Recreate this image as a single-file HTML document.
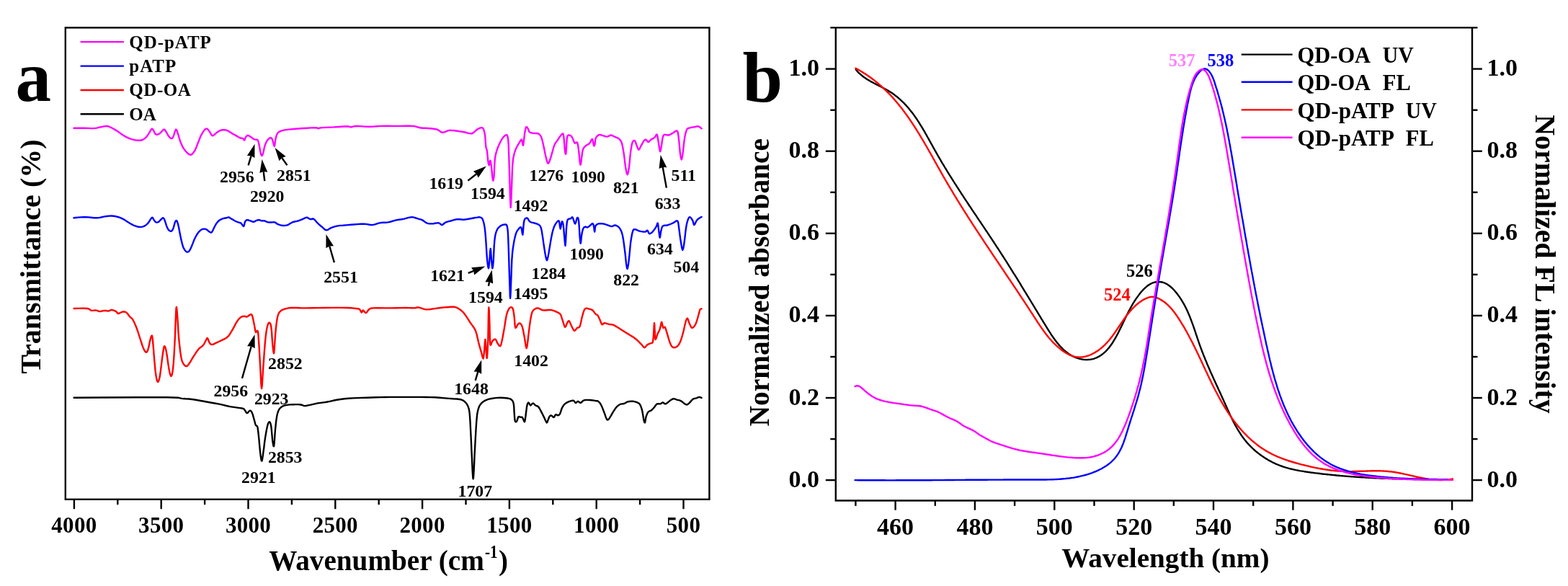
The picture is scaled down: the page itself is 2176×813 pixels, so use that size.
<!DOCTYPE html>
<html><head><meta charset="utf-8"><title>figure</title>
<style>html,body{margin:0;padding:0;background:#fff}svg{display:block}</style></head>
<body>
<svg width="2176" height="813" viewBox="0 0 2176 813" font-family="'Liberation Serif','Times New Roman',Times,serif" font-weight="bold">
<rect width="2176" height="813" fill="#fff"/>
<rect x="90.8" y="38.4" width="893.6" height="654.4" fill="none" stroke="#000" stroke-width="2.4"/>
<line x1="102.9" y1="692.8" x2="102.9" y2="706.2" stroke="#000" stroke-width="2.4"/>
<text x="102.9" y="739.0" font-size="31" text-anchor="middle" fill="#000" letter-spacing="0.3">4000</text>
<line x1="163.3" y1="692.8" x2="163.3" y2="700.2" stroke="#000" stroke-width="2.4"/>
<line x1="223.7" y1="692.8" x2="223.7" y2="706.2" stroke="#000" stroke-width="2.4"/>
<text x="223.7" y="739.0" font-size="31" text-anchor="middle" fill="#000" letter-spacing="0.3">3500</text>
<line x1="284.1" y1="692.8" x2="284.1" y2="700.2" stroke="#000" stroke-width="2.4"/>
<line x1="344.5" y1="692.8" x2="344.5" y2="706.2" stroke="#000" stroke-width="2.4"/>
<text x="344.5" y="739.0" font-size="31" text-anchor="middle" fill="#000" letter-spacing="0.3">3000</text>
<line x1="404.9" y1="692.8" x2="404.9" y2="700.2" stroke="#000" stroke-width="2.4"/>
<line x1="465.3" y1="692.8" x2="465.3" y2="706.2" stroke="#000" stroke-width="2.4"/>
<text x="465.3" y="739.0" font-size="31" text-anchor="middle" fill="#000" letter-spacing="0.3">2500</text>
<line x1="525.7" y1="692.8" x2="525.7" y2="700.2" stroke="#000" stroke-width="2.4"/>
<line x1="586.1" y1="692.8" x2="586.1" y2="706.2" stroke="#000" stroke-width="2.4"/>
<text x="586.1" y="739.0" font-size="31" text-anchor="middle" fill="#000" letter-spacing="0.3">2000</text>
<line x1="646.5" y1="692.8" x2="646.5" y2="700.2" stroke="#000" stroke-width="2.4"/>
<line x1="706.9" y1="692.8" x2="706.9" y2="706.2" stroke="#000" stroke-width="2.4"/>
<text x="706.9" y="739.0" font-size="31" text-anchor="middle" fill="#000" letter-spacing="0.3">1500</text>
<line x1="767.3" y1="692.8" x2="767.3" y2="700.2" stroke="#000" stroke-width="2.4"/>
<line x1="827.7" y1="692.8" x2="827.7" y2="706.2" stroke="#000" stroke-width="2.4"/>
<text x="827.7" y="739.0" font-size="31" text-anchor="middle" fill="#000" letter-spacing="0.3">1000</text>
<line x1="888.1" y1="692.8" x2="888.1" y2="700.2" stroke="#000" stroke-width="2.4"/>
<line x1="948.5" y1="692.8" x2="948.5" y2="706.2" stroke="#000" stroke-width="2.4"/>
<text x="948.5" y="739.0" font-size="31" text-anchor="middle" fill="#000" letter-spacing="0.3">500</text>
<text x="373.2" y="791.3" font-size="39" text-anchor="start" fill="#000" textLength="298.6" lengthAdjust="spacingAndGlyphs" >Wavenumber (cm</text>
<text x="673.0" y="773.6" font-size="25.5" text-anchor="start" fill="#000" textLength="17.6" lengthAdjust="spacingAndGlyphs" >-1</text>
<text x="692.0" y="791.3" font-size="39" text-anchor="start" fill="#000" >)</text>
<text transform="translate(56.2,518.8) rotate(-90)" font-size="39.5" textLength="325.5" lengthAdjust="spacingAndGlyphs">Transmittance (%)</text>
<text x="21.5" y="140.0" font-size="99" text-anchor="start" fill="#000" >a</text>
<line x1="111.6" y1="58.1" x2="171.9" y2="58.1" stroke="#ff00ff" stroke-width="2.4"/>
<text x="179.3" y="66.5" font-size="25" textLength="113.5" lengthAdjust="spacing">QD-pATP</text>
<line x1="111.6" y1="91.6" x2="171.9" y2="91.6" stroke="#0000ff" stroke-width="2.4"/>
<text x="179.3" y="100.0" font-size="25" textLength="65" lengthAdjust="spacing">pATP</text>
<line x1="111.6" y1="125.0" x2="171.9" y2="125.0" stroke="#ff0000" stroke-width="2.4"/>
<text x="179.3" y="133.4" font-size="25" textLength="85.5" lengthAdjust="spacing">QD-OA</text>
<line x1="111.6" y1="158.2" x2="171.9" y2="158.2" stroke="#000000" stroke-width="2.4"/>
<text x="179.3" y="166.6" font-size="25" textLength="37.5" lengthAdjust="spacing">OA</text>
<polyline points="102.6,551.7 140.2,551.5 192.2,551.3 232.1,551.3 247.2,551.7 250.1,552.4 252.4,552.9 257.5,553.3 261.9,553.5 266.6,554.0 271.7,554.7 277.0,555.7 282.8,556.8 289.4,558.0 296.5,559.2 303.1,560.4 308.9,561.7 314.3,563.0 319.4,564.1 324.6,564.9 329.6,565.6 333.6,566.1 336.0,566.5 337.4,566.8 338.6,567.6 340.1,569.5 341.4,571.9 342.7,573.2 344.1,572.5 345.5,570.6 346.8,569.6 347.9,569.8 348.8,570.8 349.8,572.6 350.9,575.6 351.9,579.4 352.9,582.8 353.6,585.5 354.2,587.9 354.9,589.9 355.7,590.6 356.7,590.9 357.5,592.9 358.2,597.8 358.9,604.4 359.6,611.2 360.2,618.3 360.9,625.5 361.6,631.5 362.2,635.8 362.8,638.9 363.4,639.6 364.0,637.4 364.7,632.8 365.4,627.4 366.3,621.1 367.1,613.9 368.1,607.1 369.1,601.0 370.1,595.4 371.1,590.9 372.0,587.8 372.9,585.9 373.8,585.2 374.6,585.7 375.4,587.5 376.2,590.9 376.9,597.0 377.6,604.8 378.2,611.2 378.9,615.8 379.5,619.0 380.1,619.3 380.6,615.3 381.1,608.3 381.6,601.0 382.2,594.1 382.9,586.9 383.7,580.7 384.5,576.1 385.4,572.5 386.5,569.6 387.8,567.2 389.4,565.5 391.2,564.1 393.2,563.1 395.4,562.4 398.3,561.9 402.1,561.4 406.6,561.2 410.4,561.1 413.3,561.1 415.5,561.2 417.6,561.5 419.4,562.0 420.9,562.7 422.6,563.1 424.4,563.0 426.2,562.6 428.7,562.1 432.3,561.3 436.6,560.3 440.9,559.4 444.9,558.9 448.9,558.4 453.1,557.8 457.6,556.9 462.3,555.8 467.3,554.8 472.5,554.0 477.9,553.3 483.5,552.7 489.4,552.4 495.5,552.1 501.8,551.9 508.4,551.7 515.2,551.5 522.1,551.3 528.1,551.1 534.1,551.0 542.4,550.9 555.2,550.9 570.2,550.9 583.0,550.9 591.2,551.0 597.3,551.1 603.3,551.3 610.3,551.8 617.3,552.4 623.6,552.9 629.1,553.3 633.9,553.5 637.8,554.0 640.4,554.5 642.2,555.3 643.9,556.4 645.7,558.0 647.5,560.0 648.9,562.5 650.0,565.1 650.9,568.2 651.6,572.6 652.1,578.9 652.6,586.5 653.0,595.0 653.5,604.7 654.0,615.3 654.4,625.4 654.9,635.0 655.3,644.2 655.6,651.8 656.0,657.9 656.3,662.6 656.7,664.4 657.0,662.7 657.3,658.2 657.7,651.8 658.1,643.3 658.5,632.8 659.1,621.3 659.8,608.2 660.6,594.2 661.4,582.8 662.1,575.5 662.9,570.8 663.9,567.0 665.0,563.8 666.4,561.5 668.1,559.4 670.3,557.5 672.9,555.8 676.2,554.4 680.6,553.2 685.6,552.4 690.4,551.9 694.8,551.8 699.0,552.0 702.6,552.3 705.5,552.7 707.8,553.3 709.7,554.4 711.1,555.8 712.1,557.7 712.8,560.4 713.3,564.7 713.5,569.9 713.8,574.6 714.1,578.6 714.4,582.0 714.8,584.4 715.5,585.3 716.4,585.2 717.2,584.4 717.9,582.6 718.6,580.1 719.3,578.3 720.1,578.0 721.0,578.3 721.9,578.7 722.9,578.7 724.0,578.7 724.9,579.1 725.7,580.5 726.4,582.4 727.0,583.8 727.5,584.7 727.9,585.3 728.4,584.4 728.9,581.3 729.5,576.9 730.0,572.6 730.5,568.9 730.9,565.3 731.4,562.5 732.0,560.4 732.7,558.9 733.5,558.4 734.3,559.4 735.1,561.3 736.1,562.5 737.2,561.8 738.4,560.3 739.6,559.4 740.7,560.0 742.0,561.3 743.2,562.5 744.5,563.0 745.9,563.5 747.3,564.5 748.6,566.5 750.0,569.0 751.3,571.6 752.7,574.3 754.1,577.1 755.4,579.7 756.6,582.5 757.8,585.1 758.8,586.4 759.6,585.7 760.2,583.7 760.9,581.8 761.6,580.0 762.3,578.3 763.1,577.1 763.9,576.5 764.7,576.4 765.5,576.7 766.5,577.5 767.6,578.7 768.6,579.1 769.5,578.0 770.3,576.3 771.2,575.1 772.3,575.2 773.5,576.0 774.7,576.3 775.6,575.8 776.5,575.0 777.3,573.6 778.1,571.5 778.9,568.9 779.7,566.5 780.7,564.6 781.7,562.9 782.8,561.5 784.0,560.3 785.4,559.3 786.8,558.4 788.5,557.6 790.3,556.9 791.9,556.4 793.4,555.9 794.7,555.6 796.0,555.8 797.1,556.8 798.0,558.2 799.0,559.0 800.0,558.5 801.0,557.4 802.1,556.8 803.2,557.4 804.4,558.5 805.7,559.0 807.0,558.1 808.4,556.6 810.2,555.4 812.6,554.9 815.5,554.9 818.3,555.0 821.2,555.2 824.0,555.6 826.4,556.0 828.1,556.2 829.3,556.3 830.5,557.0 831.8,558.3 833.2,560.1 834.5,562.5 835.9,565.6 837.3,569.2 838.6,572.6 839.7,575.7 840.7,578.6 841.6,580.7 842.4,582.0 843.0,582.5 843.7,582.4 844.6,581.7 845.6,580.4 846.7,578.7 848.0,576.6 849.3,574.1 850.8,571.6 852.4,569.1 854.1,566.6 855.8,564.5 857.5,562.9 859.2,561.7 860.9,560.8 862.6,560.4 864.3,560.3 866.0,560.0 867.6,559.2 869.2,558.2 871.1,557.4 873.3,557.0 875.8,556.8 878.2,556.8 880.4,557.1 882.4,557.7 884.3,558.4 885.8,559.1 887.1,559.9 888.3,561.5 889.4,563.9 890.5,567.1 891.4,570.6 892.1,574.7 892.8,579.2 893.4,582.8 894.0,585.0 894.5,586.4 895.0,586.4 895.4,584.7 895.9,581.7 896.4,578.7 897.3,576.1 898.3,573.6 899.5,571.6 900.8,570.6 902.2,570.2 903.5,569.6 904.9,568.4 906.2,567.0 907.6,565.5 908.9,563.7 910.3,561.8 911.7,560.4 913.1,560.1 914.7,560.4 916.1,560.4 917.4,559.8 918.6,558.9 919.8,558.4 921.0,559.0 922.2,560.0 923.4,560.4 924.8,559.8 926.3,558.7 927.9,557.4 929.8,555.9 931.9,554.3 934.0,553.3 936.1,553.4 938.1,554.1 940.1,554.8 941.9,555.2 943.6,555.7 945.1,556.4 946.6,557.3 947.9,558.4 949.2,559.4 950.6,560.4 951.9,561.2 953.3,561.5 954.6,560.9 956.0,559.7 957.3,558.4 958.6,556.9 960.0,555.3 961.4,553.9 963.0,553.2 964.8,552.7 966.5,552.3 967.9,551.7 969.3,551.2 970.5,550.9 971.7,551.1 972.8,551.6 973.6,551.9" fill="none" stroke="#000000" stroke-width="2.4" stroke-linejoin="round" stroke-linecap="round" />
<polyline points="102.6,428.0 108.0,427.9 115.5,427.8 121.5,428.0 124.1,428.9 125.3,430.0 126.5,430.9 128.5,430.9 130.6,430.6 132.6,430.4 134.7,430.9 136.7,431.7 138.7,432.1 140.7,431.8 142.8,431.2 144.8,430.9 146.9,431.0 149.0,431.4 150.9,431.5 152.3,430.9 153.5,430.2 155.0,429.8 156.9,430.3 159.2,431.1 161.0,432.1 162.2,433.2 163.0,434.5 164.1,435.1 165.9,434.5 168.1,433.3 170.2,432.5 171.9,432.4 173.6,432.6 175.3,433.5 177.0,435.2 178.7,437.5 180.3,439.6 181.7,440.8 183.0,441.8 184.4,443.6 186.0,446.7 187.7,450.5 189.5,454.8 191.2,459.7 192.9,465.0 194.5,470.0 196.0,474.5 197.3,478.7 198.6,482.2 200.0,485.3 201.4,487.7 202.7,488.9 203.8,488.4 204.8,486.7 205.7,484.2 206.5,480.9 207.3,476.8 208.1,473.1 209.0,469.5 210.0,466.4 210.8,465.4 211.4,467.4 211.9,471.7 212.4,477.1 213.0,483.9 213.6,491.8 214.2,499.5 214.9,506.8 215.5,513.8 216.3,519.8 217.1,524.6 218.0,528.3 218.9,529.9 219.9,529.2 220.9,526.4 221.9,521.8 222.9,514.6 224.0,505.6 225.0,497.4 226.0,490.2 227.0,483.7 228.0,480.2 229.0,480.9 230.1,484.5 231.1,489.3 232.1,495.5 233.1,503.0 234.1,509.6 235.1,515.0 236.2,519.5 237.2,521.8 238.1,521.5 238.9,518.9 239.8,513.7 240.7,504.9 241.5,493.5 242.2,481.2 242.9,467.3 243.4,452.5 243.9,440.6 244.2,432.7 244.5,427.7 244.9,426.0 245.3,428.1 245.8,433.5 246.3,440.6 246.9,449.8 247.5,460.8 248.3,471.0 249.3,480.2 250.3,488.6 251.4,495.4 252.3,499.8 253.3,502.5 254.4,504.5 255.7,506.4 257.1,507.7 258.5,508.2 259.7,507.8 261.0,506.5 262.5,504.5 264.4,501.6 266.4,498.0 268.6,494.4 271.0,490.8 273.4,487.2 275.7,484.2 277.9,482.2 280.0,480.8 281.8,479.2 283.4,476.8 284.7,474.2 285.9,472.1 286.7,470.4 287.3,469.2 287.9,469.0 288.7,470.5 289.6,473.0 290.5,475.1 291.5,476.6 292.5,477.7 294.0,478.1 296.1,477.6 298.5,476.4 301.1,475.1 303.8,474.0 306.5,472.7 309.2,471.4 311.7,470.2 314.1,468.8 316.3,467.0 318.4,464.4 320.4,461.2 322.4,457.8 324.5,454.1 326.5,450.1 328.5,446.7 330.3,444.1 331.9,442.1 333.6,440.6 335.3,439.5 337.0,438.9 338.6,438.6 340.0,438.8 341.3,439.5 342.7,439.6 344.4,438.5 346.2,437.0 347.8,436.1 348.8,436.1 349.5,436.8 350.2,438.6 351.1,442.0 352.0,446.5 352.9,450.7 353.6,454.7 354.2,458.5 354.9,460.9 355.8,460.6 356.7,458.9 357.5,458.9 358.1,461.0 358.5,464.8 358.9,471.0 359.6,480.9 360.3,493.3 361.0,505.5 361.7,519.0 362.3,532.3 363.0,539.0 363.7,535.4 364.3,525.1 365.0,513.7 365.9,501.7 366.8,488.5 367.7,477.1 368.5,468.7 369.3,462.2 370.1,456.8 371.1,452.4 372.1,449.3 373.2,447.7 374.2,447.6 375.3,449.1 376.2,452.8 377.0,459.9 377.6,469.1 378.2,477.1 378.9,483.6 379.5,488.7 380.1,490.3 380.6,486.4 381.1,478.9 381.6,471.0 382.2,463.4 382.9,455.5 383.7,448.7 384.4,443.7 385.1,439.7 386.1,436.5 387.2,434.0 388.6,432.3 390.1,430.9 392.0,429.8 394.0,429.0 396.2,428.4 398.3,427.8 400.7,427.3 404.4,427.0 410.0,427.0 417.0,427.3 424.7,427.4 432.8,427.3 441.7,427.1 451.0,427.0 461.6,426.9 472.5,426.9 481.5,427.0 487.2,427.3 490.8,427.6 493.7,428.0 496.0,428.2 497.5,428.3 498.7,428.8 499.9,430.4 500.9,432.4 501.8,433.5 502.5,432.8 503.0,431.3 503.8,430.4 505.0,431.5 506.4,433.3 507.9,434.1 509.2,433.1 510.4,431.1 511.9,429.4 513.1,428.5 514.6,427.8 518.0,427.4 524.9,427.3 533.9,427.4 542.4,427.4 549.7,427.3 556.7,427.1 562.7,427.0 567.6,427.1 571.6,427.3 574.9,427.4 577.2,427.0 578.8,426.5 580.9,426.4 584.0,427.3 587.6,428.6 591.1,429.4 594.4,429.4 597.7,429.0 601.2,428.4 605.2,427.9 609.4,427.3 613.4,426.8 617.1,426.4 620.5,426.2 623.6,426.0 626.2,425.8 628.5,425.6 630.7,425.8 632.7,426.3 634.7,427.2 636.8,428.4 639.0,430.0 641.4,431.9 643.9,434.5 646.5,438.1 649.3,442.4 652.0,446.7 654.8,450.6 657.6,454.5 660.0,458.9 661.6,464.0 662.9,469.7 664.1,475.1 665.5,480.2 666.9,485.1 668.1,489.3 669.1,493.2 669.9,496.4 670.6,497.4 671.2,494.9 671.7,490.2 672.2,485.2 672.6,479.6 673.0,473.7 673.4,471.0 673.8,473.8 674.2,479.6 674.6,485.2 675.0,490.7 675.4,496.0 675.8,497.0 676.3,491.8 676.8,482.5 677.3,471.0 677.6,455.0 677.9,436.8 678.3,426.4 678.7,429.3 679.1,439.8 679.5,450.7 679.7,460.8 679.9,471.3 680.3,478.1 681.1,478.8 682.2,475.8 683.3,473.1 684.7,471.8 686.1,470.8 687.4,470.6 688.5,471.9 689.4,474.1 690.4,476.1 691.7,478.0 692.9,479.7 694.1,480.2 695.0,479.0 695.7,476.5 696.5,473.1 697.5,468.4 698.5,462.7 699.6,456.8 700.6,450.6 701.6,444.0 702.6,438.6 703.6,434.6 704.6,431.7 705.7,429.4 706.7,427.8 707.7,426.8 708.7,426.4 709.8,426.3 710.8,426.8 711.8,428.4 712.5,431.6 713.2,436.0 713.8,440.6 714.2,445.9 714.6,451.4 715.2,454.8 716.3,454.4 717.6,451.8 718.9,449.7 719.9,448.9 720.9,448.4 721.9,448.7 722.9,449.6 723.9,451.1 724.9,453.8 726.0,458.1 727.0,463.6 728.0,469.0 728.9,474.8 729.8,480.5 730.6,483.2 731.3,481.4 732.0,476.7 732.7,471.0 733.4,464.6 734.3,457.4 735.1,450.7 735.9,445.3 736.7,440.4 737.5,436.5 738.3,433.8 739.0,431.9 740.2,430.4 741.9,429.0 744.0,427.8 746.3,427.4 748.5,428.1 750.9,429.5 753.4,430.4 756.1,430.5 759.0,430.2 761.5,430.0 763.4,430.0 764.9,430.1 766.5,430.4 768.5,431.1 770.6,431.9 772.6,432.9 774.5,433.7 776.2,434.6 777.7,436.1 778.9,438.6 779.8,441.6 780.8,444.6 781.9,448.2 783.1,451.8 784.2,453.8 785.1,453.1 786.0,450.8 786.8,448.7 787.7,447.0 788.5,445.5 789.5,445.1 790.6,446.5 791.7,449.1 792.9,451.8 794.2,454.5 795.6,457.3 797.0,458.9 798.4,458.2 799.7,456.4 801.1,454.8 802.3,454.4 803.4,454.3 804.5,453.2 805.4,450.3 806.3,446.5 807.1,442.6 808.1,438.7 809.2,434.6 810.2,431.5 811.1,429.5 812.1,428.4 813.2,427.8 814.8,427.8 816.6,428.3 818.3,428.8 819.7,429.2 821.0,429.6 822.4,430.4 823.8,432.0 825.1,433.9 826.4,435.5 827.5,436.3 828.5,436.7 829.5,437.5 830.5,439.3 831.5,441.4 832.5,443.6 833.5,446.2 834.5,448.7 835.6,450.3 836.5,450.1 837.4,448.9 838.6,448.1 840.4,448.4 842.5,449.1 844.7,449.7 846.6,450.0 848.6,450.2 850.8,450.7 853.3,451.9 856.1,453.5 858.9,455.2 861.6,456.9 864.3,458.7 867.0,460.5 869.7,462.1 872.4,463.7 875.1,465.4 877.9,467.1 880.6,469.0 883.2,471.0 885.8,473.4 888.2,475.9 890.4,478.1 891.9,480.0 893.2,481.6 894.4,482.2 895.7,481.4 897.0,479.6 898.5,478.1 900.2,477.3 902.0,476.7 903.5,476.1 904.6,475.8 905.4,475.6 906.0,474.1 906.5,470.5 906.9,465.7 907.2,460.9 907.5,455.6 907.8,450.5 908.0,448.1 908.3,450.6 908.5,455.9 908.8,460.9 909.0,465.1 909.2,469.1 909.6,471.0 910.5,469.6 911.6,466.1 912.7,462.9 913.7,460.9 914.7,459.1 915.7,456.8 916.6,453.1 917.4,448.9 918.2,446.7 918.8,448.4 919.5,452.1 920.2,454.8 921.0,454.8 921.9,453.7 922.8,453.8 923.8,456.0 924.8,459.4 925.9,462.9 926.9,466.3 927.9,469.9 928.9,473.1 929.9,475.8 930.9,478.3 932.0,480.2 933.1,481.4 934.3,482.0 935.6,482.2 937.1,482.0 938.6,481.3 940.1,480.2 941.5,478.7 942.8,476.8 944.1,474.1 945.5,470.2 946.9,465.5 948.2,460.9 949.3,456.2 950.3,451.6 951.2,447.7 952.1,444.6 953.0,442.4 953.9,441.6 954.8,443.0 955.7,445.9 956.7,448.7 957.8,451.1 958.9,453.4 960.0,454.8 961.1,454.9 962.3,454.0 963.4,452.8 964.5,451.2 965.5,449.2 966.5,446.7 967.5,443.5 968.6,439.8 969.5,436.5 970.3,433.7 970.9,431.2 971.5,429.4 972.3,428.6 973.0,428.5 973.6,428.4" fill="none" stroke="#ff0000" stroke-width="2.4" stroke-linejoin="round" stroke-linecap="round" />
<polyline points="102.5,302.3 105.0,302.0 108.5,301.6 112.1,301.4 115.9,301.3 119.7,301.3 123.2,301.4 125.9,301.7 128.3,302.0 130.6,302.3 133.1,302.3 135.5,302.2 138.0,301.9 140.4,301.5 142.8,300.9 145.4,300.4 148.3,300.0 151.4,299.6 154.6,299.5 157.7,299.8 160.9,300.3 163.8,301.0 166.4,301.9 168.8,302.9 171.2,304.1 173.6,305.6 176.1,307.2 178.6,308.7 181.0,310.2 183.5,311.6 185.9,312.8 188.4,313.7 190.9,314.5 193.3,314.8 195.6,314.9 197.7,314.6 199.8,313.9 201.8,312.8 203.6,311.3 205.3,309.7 206.7,307.8 207.9,305.8 209.0,304.1 209.9,302.9 210.7,302.0 211.4,301.7 212.1,302.4 212.8,303.7 213.6,305.1 214.5,306.3 215.4,307.6 216.4,308.4 217.5,308.6 218.8,308.4 220.1,307.8 221.3,306.8 222.6,305.3 223.8,304.1 224.8,303.2 225.7,302.4 226.5,302.3 227.3,303.0 228.0,304.3 228.7,306.0 229.5,308.2 230.3,310.9 231.1,313.4 232.0,315.5 232.9,317.4 233.9,318.9 235.1,320.0 236.4,320.7 237.6,320.7 238.6,320.1 239.5,318.8 240.4,317.0 241.2,314.4 242.0,311.3 242.8,308.7 243.5,307.1 244.3,306.1 245.0,306.0 245.7,307.0 246.4,308.9 247.2,311.5 248.0,315.0 248.8,319.2 249.6,323.5 250.5,327.9 251.4,332.4 252.4,336.4 253.2,339.7 254.1,342.4 255.1,344.7 256.3,346.7 257.6,348.3 258.8,349.3 260.0,349.7 261.3,349.4 262.5,348.4 263.7,346.5 265.0,343.9 266.2,341.0 267.4,338.1 268.6,334.9 269.9,331.8 271.4,328.8 272.9,326.0 274.5,323.5 276.1,321.6 277.6,320.0 279.1,318.9 280.4,318.1 281.6,317.8 282.8,317.6 284.0,317.6 285.3,317.9 286.5,318.3 287.7,319.2 289.0,320.3 290.2,321.3 291.3,322.0 292.4,322.6 293.3,322.6 294.1,321.9 294.9,320.6 295.7,318.9 296.8,316.6 298.1,314.0 299.4,311.5 300.8,309.4 302.4,307.5 304.0,306.0 305.8,304.8 307.7,303.9 309.6,303.2 311.2,302.8 312.8,302.5 314.2,302.3 315.3,301.9 316.3,301.5 317.3,301.4 318.4,301.7 319.4,302.4 320.6,303.2 322.1,304.1 323.7,305.1 325.2,306.0 326.8,306.8 328.3,307.5 329.9,308.2 331.4,308.6 333.0,309.0 334.5,309.7 335.8,311.3 337.1,313.2 338.2,313.9 338.9,312.5 339.4,310.0 340.0,307.8 340.8,306.5 341.7,305.6 342.8,305.1 344.2,305.2 345.8,305.8 347.4,306.3 349.0,306.9 350.5,307.6 352.0,307.8 353.3,307.4 354.5,306.6 355.7,306.0 356.9,305.5 358.1,305.2 359.4,305.1 360.6,305.4 361.8,305.9 363.1,306.3 364.2,306.4 365.4,306.2 366.8,306.3 368.5,306.9 370.4,307.8 372.3,308.4 374.3,308.5 376.2,308.5 377.8,308.4 378.8,308.4 379.4,308.3 380.0,308.4 380.8,308.4 381.6,308.5 382.4,308.7 383.0,309.2 383.6,309.9 384.6,310.6 386.4,311.4 388.7,312.2 391.1,312.8 393.5,313.0 396.0,312.9 398.5,312.4 400.8,311.3 403.2,309.7 405.8,308.4 408.8,307.5 412.0,306.8 415.1,306.0 417.8,304.9 420.3,303.8 422.4,302.8 423.9,302.2 425.0,301.8 426.1,301.7 427.6,302.4 429.2,303.4 430.7,304.1 432.2,304.0 433.7,303.5 435.4,303.8 437.1,305.3 438.9,307.5 440.9,309.7 443.0,311.6 445.2,313.5 447.3,315.2 449.2,317.0 451.0,318.6 452.9,319.4 454.9,318.9 456.9,317.5 459.3,316.1 462.1,315.1 465.2,314.1 468.6,313.4 472.1,312.9 475.9,312.7 479.6,312.4 483.2,312.1 486.7,311.8 490.7,311.5 495.5,311.1 500.7,310.7 505.5,310.6 509.4,311.1 513.0,311.8 516.5,312.1 520.2,311.3 523.9,310.1 527.6,309.1 531.3,308.8 535.0,308.7 538.7,308.4 542.4,307.5 546.1,306.4 549.7,305.4 553.6,304.7 557.4,304.2 560.8,303.6 563.6,302.9 566.0,302.2 568.2,301.7 570.1,301.4 571.7,301.3 573.4,301.4 575.3,301.8 577.2,302.5 579.3,303.2 581.4,303.8 583.7,304.3 585.7,305.1 587.4,306.1 588.9,307.3 590.3,308.4 591.8,309.2 593.3,309.8 594.9,310.2 596.9,310.4 599.1,310.4 601.4,310.2 603.9,309.8 606.5,309.4 608.8,309.3 610.5,310.2 612.0,311.5 613.4,312.1 614.8,311.4 616.3,310.0 618.0,308.7 620.2,307.9 622.7,307.2 625.4,306.5 628.3,305.6 631.5,304.7 634.6,304.1 637.7,304.2 640.8,304.5 643.8,304.7 647.0,304.3 650.1,303.8 653.1,303.2 655.7,302.7 658.2,302.3 660.4,301.9 662.5,301.6 664.3,301.3 666.0,301.4 667.4,301.8 668.6,302.5 669.7,304.1 670.7,306.8 671.6,310.2 672.4,314.3 673.0,318.6 673.5,323.5 674.0,329.7 674.6,338.4 675.2,348.4 675.8,357.1 676.5,364.1 677.2,369.7 677.9,372.3 678.4,370.8 678.8,366.3 679.3,361.2 679.8,355.0 680.2,348.3 680.7,344.9 681.1,347.5 681.5,353.4 681.9,359.2 682.4,364.5 682.9,369.8 683.3,372.3 683.8,371.1 684.3,367.1 684.8,361.2 685.2,352.4 685.7,341.8 686.4,332.8 687.2,327.0 688.2,322.9 689.4,319.6 690.9,316.9 692.7,315.0 694.5,313.5 696.6,312.4 698.7,311.7 700.6,311.5 701.9,311.4 702.9,311.8 703.6,313.5 704.2,316.3 704.7,320.3 705.1,326.7 705.5,336.7 705.9,349.0 706.3,361.2 706.6,372.6 707.0,383.8 707.3,393.7 707.6,402.8 707.8,410.6 708.1,413.9 708.4,410.6 708.8,402.8 709.1,393.7 709.5,383.3 709.9,371.6 710.3,361.2 710.9,353.4 711.5,346.9 712.4,340.9 713.4,334.8 714.6,329.2 715.8,324.6 717.1,321.4 718.5,319.2 719.9,317.5 721.1,316.0 722.3,315.1 723.3,315.5 724.1,319.0 724.8,323.9 725.4,325.7 725.9,321.5 726.4,314.3 727.0,308.4 727.6,305.7 728.2,304.2 729.0,303.3 729.9,302.6 731.0,302.4 732.0,302.7 732.9,304.0 733.9,305.8 735.1,307.4 736.9,308.3 739.0,308.8 741.2,309.4 743.3,310.0 745.4,310.6 747.3,311.5 748.7,312.6 749.9,314.1 750.9,316.5 751.8,320.4 752.5,325.2 753.4,330.7 754.3,337.4 755.4,344.8 756.4,351.0 757.3,355.9 758.2,359.7 759.0,361.2 759.8,359.6 760.6,355.8 761.5,351.0 762.4,345.4 763.5,338.9 764.5,332.8 765.5,327.5 766.5,322.7 767.6,318.6 768.7,315.3 769.9,312.6 771.2,310.4 772.7,308.2 774.3,306.5 775.7,306.4 776.5,309.8 777.1,314.8 777.7,317.5 778.4,315.2 779.1,310.4 779.7,307.4 780.4,307.5 781.1,309.4 781.8,312.5 782.3,317.2 782.7,323.2 783.2,328.7 783.7,334.3 784.2,339.4 784.6,340.9 785.0,336.3 785.4,328.2 785.8,320.6 786.2,314.7 786.7,309.3 787.5,305.4 788.8,303.7 790.5,303.5 791.9,303.3 792.9,302.4 793.6,301.5 794.4,301.3 795.1,302.5 795.7,304.5 796.4,306.4 797.0,308.3 797.7,310.1 798.4,310.4 799.3,308.1 800.2,304.3 801.1,301.9 801.8,301.9 802.5,303.2 803.1,306.4 803.6,312.3 804.1,320.0 804.5,326.7 804.9,331.9 805.3,336.1 805.7,337.8 806.2,335.7 806.6,331.1 807.1,326.7 807.7,323.3 808.4,320.1 809.2,317.5 810.1,315.9 811.2,315.0 812.2,314.5 813.2,314.7 814.2,315.3 815.3,315.5 816.6,314.8 818.0,313.6 819.3,312.5 820.5,311.4 821.5,310.4 822.4,310.0 823.0,310.6 823.5,311.8 824.0,313.5 824.4,316.4 824.8,319.9 825.2,321.6 825.5,319.9 825.8,316.4 826.4,313.5 827.5,312.0 828.9,311.0 830.5,310.4 832.4,310.2 834.5,310.2 836.6,310.4 838.6,310.8 840.6,311.4 842.7,312.1 844.7,312.8 846.8,313.7 848.7,314.1 850.5,313.6 852.1,312.7 853.8,312.5 855.8,313.2 858.0,314.5 859.9,316.5 861.4,319.1 862.8,322.3 864.0,326.7 865.1,332.8 866.1,340.0 867.0,347.0 867.8,353.6 868.4,360.0 869.0,365.2 869.6,369.3 870.1,372.2 870.7,373.0 871.3,370.9 872.0,366.8 872.7,361.2 873.5,353.7 874.3,344.8 875.1,336.8 876.1,330.3 877.1,324.7 878.2,320.6 879.1,318.6 880.0,318.1 881.2,318.2 882.9,318.7 885.0,319.7 887.3,320.6 890.0,321.1 893.0,321.5 895.4,321.6 896.8,320.9 897.7,319.9 898.5,319.6 899.3,320.9 900.1,323.0 901.1,324.2 902.4,324.1 904.0,323.1 905.6,321.6 907.3,319.5 909.2,316.9 910.6,314.5 911.6,312.1 912.2,310.0 912.7,309.4 913.2,311.3 913.6,314.8 914.1,318.6 914.6,322.9 915.2,327.4 915.7,329.7 916.2,328.1 916.7,324.2 917.3,320.6 918.0,317.8 918.7,315.3 919.8,313.5 921.5,312.8 923.6,312.7 925.9,312.5 928.5,311.6 931.4,310.5 934.0,309.4 936.3,308.0 938.4,306.5 940.1,306.4 941.1,308.3 941.6,311.6 942.1,315.5 942.7,320.1 943.4,325.4 944.1,330.7 945.1,337.1 946.2,343.6 947.2,347.0 948.1,345.3 949.0,340.5 949.8,334.8 950.6,328.3 951.4,320.9 952.3,314.5 953.2,309.8 954.3,306.0 955.3,303.3 956.2,301.7 957.0,301.1 957.9,301.3 959.1,302.5 960.3,304.4 961.4,306.4 962.1,308.7 962.7,311.0 963.4,312.1 964.4,310.9 965.4,308.5 966.5,306.4 967.4,305.2 968.4,304.2 969.5,303.3 970.9,302.4 972.5,301.5 973.6,300.9" fill="none" stroke="#0000ff" stroke-width="2.4" stroke-linejoin="round" stroke-linecap="round" />
<polyline points="102.5,177.7 106.6,177.7 112.2,177.6 117.7,177.7 122.3,177.9 126.6,178.1 130.6,178.0 134.0,177.6 136.9,176.9 139.8,176.2 142.8,175.6 145.6,175.1 148.1,174.9 150.1,175.2 151.7,175.8 153.7,176.8 156.2,178.0 159.0,179.6 162.0,181.4 165.0,183.4 168.1,185.7 171.2,187.8 174.3,189.6 177.3,191.1 180.4,192.4 183.5,193.4 186.7,194.2 189.6,194.6 192.3,194.8 194.8,194.7 197.0,194.3 199.0,193.4 200.8,192.1 202.5,190.6 204.2,188.6 205.7,186.3 207.2,184.1 208.5,181.9 209.7,179.8 210.8,178.6 211.7,178.8 212.5,180.0 213.2,181.4 214.1,182.9 214.9,184.7 215.8,186.0 216.9,186.6 218.0,186.7 219.2,186.5 220.3,186.0 221.5,185.2 222.8,184.1 224.4,182.5 226.0,180.6 227.5,179.5 228.5,179.8 229.3,180.8 230.2,182.3 231.4,184.3 232.6,186.7 233.9,188.7 235.2,190.3 236.4,191.5 237.6,192.1 238.6,192.0 239.4,191.3 240.4,189.7 241.6,186.3 242.9,182.0 244.1,179.5 245.0,180.1 245.9,182.4 246.8,185.1 247.7,187.9 248.6,191.1 249.6,194.3 250.7,197.5 252.0,200.6 253.3,203.5 254.8,205.9 256.3,208.1 257.9,210.0 259.5,211.7 261.0,213.2 262.5,214.2 263.8,214.7 264.9,214.8 266.2,214.2 267.7,212.7 269.3,210.6 270.8,208.1 272.1,205.3 273.2,202.2 274.5,198.9 276.0,195.2 277.5,191.3 279.1,187.8 280.7,184.9 282.3,182.4 283.7,180.4 285.0,179.2 286.2,178.5 287.4,178.6 288.6,179.6 289.9,181.4 291.1,183.2 292.3,185.2 293.5,187.3 294.8,188.4 296.2,187.9 297.8,186.5 299.4,185.1 301.2,183.8 303.1,182.4 304.9,181.4 306.8,180.7 308.6,180.2 310.5,180.1 312.3,180.2 314.1,180.6 316.0,181.4 318.1,182.6 320.4,184.1 322.5,185.4 324.4,186.5 326.2,187.4 328.0,188.4 329.9,189.5 331.8,190.7 333.5,191.5 335.0,191.8 336.2,191.8 337.2,192.1 338.0,193.1 338.5,194.3 339.1,194.6 339.8,193.4 340.5,191.4 341.3,189.7 342.2,188.7 343.2,188.0 344.2,187.8 345.5,188.3 346.9,189.2 348.3,190.2 349.8,191.3 351.4,192.4 352.9,193.4 354.5,193.6 356.2,193.6 357.5,194.3 358.5,196.2 359.1,198.8 359.7,201.7 360.4,205.1 361.0,208.8 361.6,211.8 362.2,214.0 362.8,215.5 363.4,216.1 364.0,215.5 364.6,214.0 365.3,211.8 366.0,208.8 366.8,205.1 367.7,201.7 368.8,198.8 370.0,196.3 371.4,194.3 372.8,192.6 374.3,191.4 375.6,191.0 376.6,191.4 377.4,192.5 378.2,194.3 379.1,197.5 380.0,201.3 380.8,203.1 381.3,201.4 381.7,197.8 382.2,194.3 382.7,191.6 383.3,189.1 384.1,186.9 384.9,185.2 385.9,183.9 387.4,182.8 389.3,181.9 391.7,181.1 394.8,180.4 398.5,179.9 402.8,179.4 407.7,179.0 413.6,178.5 420.2,178.0 426.1,177.7 431.2,177.4 435.7,177.3 439.0,177.3 440.6,177.6 441.1,178.0 441.8,178.2 442.8,178.0 443.9,177.5 446.4,177.1 451.0,176.9 456.9,176.6 463.0,176.4 469.5,176.0 476.2,175.5 481.5,175.3 484.2,175.5 485.5,176.0 487.0,176.2 488.9,175.9 491.0,175.3 494.4,174.9 499.9,175.1 506.6,175.6 512.8,175.8 517.6,175.6 521.9,175.2 527.6,174.9 536.2,174.8 546.3,174.9 555.3,174.9 562.5,174.8 568.6,174.7 573.7,174.9 577.4,175.6 580.1,176.5 583.0,177.3 586.5,177.7 590.3,177.8 594.0,178.0 598.0,178.3 601.9,178.7 605.1,179.2 607.1,179.8 608.5,180.6 609.7,181.4 611.0,182.3 612.1,183.2 613.4,183.8 614.8,183.7 616.4,183.4 618.0,182.8 619.6,182.1 621.3,181.3 623.5,180.8 626.9,180.9 630.9,181.3 634.6,181.7 637.8,182.2 640.8,182.6 643.8,183.2 647.1,184.0 650.4,184.9 653.1,185.4 654.6,185.4 655.6,184.9 656.8,184.1 658.5,182.8 660.4,181.0 662.3,179.5 664.2,178.4 666.2,177.6 667.8,177.1 669.0,177.1 669.8,177.5 670.6,178.6 671.5,180.6 672.3,183.3 673.0,186.9 673.5,192.2 673.9,198.5 674.3,203.5 674.8,205.8 675.3,206.8 675.8,208.9 676.3,213.2 676.8,218.6 677.3,223.1 677.7,226.2 678.2,228.4 678.7,229.2 679.2,227.4 679.7,224.2 680.3,222.7 680.8,224.2 681.4,227.4 681.9,231.2 682.4,235.8 682.9,241.1 683.3,245.4 683.7,248.2 684.0,250.0 684.4,250.5 684.7,249.6 685.2,247.3 685.6,243.4 685.9,236.7 686.3,228.3 686.8,221.0 687.5,216.1 688.4,212.4 689.4,208.9 690.7,205.2 692.1,201.8 693.5,198.7 694.8,196.0 696.2,193.6 697.5,191.6 699.0,189.8 700.4,188.4 701.6,187.5 702.6,187.1 703.5,187.2 704.2,188.6 704.8,191.1 705.3,194.9 705.7,200.7 706.0,209.5 706.4,220.2 706.7,231.2 707.0,242.2 707.4,253.4 707.7,263.7 708.0,274.2 708.4,283.8 708.7,288.0 709.1,283.8 709.5,274.2 709.9,263.7 710.3,252.8 710.7,241.1 711.1,231.2 711.7,224.3 712.3,219.3 713.2,214.9 714.3,211.0 715.5,207.7 716.8,204.8 718.2,202.1 719.6,199.7 720.9,197.7 722.0,195.7 723.0,194.0 723.9,193.6 724.7,196.3 725.3,200.3 726.0,201.8 726.6,198.2 727.3,192.1 728.0,186.5 728.6,182.3 729.3,178.7 730.0,176.4 730.9,176.0 731.8,177.1 732.7,178.4 733.3,180.0 734.0,182.0 735.1,183.5 736.9,184.3 739.0,184.6 741.2,184.9 743.3,185.0 745.4,185.0 747.3,185.5 748.8,186.6 750.1,188.2 751.3,190.6 752.4,194.0 753.4,198.3 754.4,202.8 755.4,207.5 756.4,212.5 757.4,217.0 758.4,221.1 759.4,224.8 760.5,226.7 761.5,226.1 762.5,223.8 763.5,221.0 764.5,218.0 765.5,214.4 766.5,210.9 767.5,207.4 768.5,203.8 769.6,200.7 770.9,198.4 772.3,196.5 773.7,194.6 775.0,192.5 776.4,190.4 777.7,188.6 779.0,186.9 780.3,185.5 781.4,185.5 782.0,187.4 782.4,190.6 782.8,194.6 783.3,200.1 783.7,206.3 784.2,210.9 784.6,213.1 785.1,213.8 785.4,212.9 785.7,209.9 786.0,205.3 786.2,200.7 786.5,196.2 786.8,191.7 787.5,188.6 788.8,187.4 790.4,187.5 791.9,188.2 793.1,189.2 794.0,190.8 795.0,192.6 795.8,194.8 796.7,197.1 797.6,198.7 798.7,198.4 800.0,197.4 801.1,197.7 801.9,200.4 802.5,204.5 803.1,208.9 803.6,213.7 804.1,218.8 804.5,223.1 804.9,226.2 805.3,228.3 805.7,228.7 806.2,226.7 806.7,222.9 807.1,219.0 807.6,215.5 808.0,211.9 808.6,208.9 809.3,206.7 810.2,205.1 811.2,203.8 812.5,202.6 813.9,201.6 815.3,200.7 816.3,200.1 817.3,199.6 818.3,198.7 819.5,196.6 820.8,194.0 822.0,193.0 822.8,195.2 823.4,199.0 824.0,201.8 824.5,202.4 825.0,202.0 825.4,200.7 825.8,198.1 826.1,194.6 826.8,191.6 828.1,189.5 829.8,187.9 831.5,186.9 833.1,186.9 834.8,187.5 836.6,188.2 838.6,188.7 840.7,189.4 842.7,189.6 844.4,189.0 846.1,188.0 847.7,187.5 849.4,187.9 851.0,188.7 852.8,189.6 854.8,190.4 857.0,191.3 858.9,192.6 860.4,194.0 861.7,195.8 863.0,198.7 864.1,203.4 865.1,209.2 866.0,214.9 866.7,220.5 867.3,226.1 868.0,231.2 868.9,236.1 869.8,240.5 870.7,242.3 871.5,240.6 872.3,236.4 873.1,231.2 873.8,224.8 874.4,217.5 875.1,210.9 875.9,205.6 876.7,201.0 877.6,197.7 878.6,195.7 879.8,194.9 880.8,195.1 881.7,196.3 882.4,198.4 883.2,200.7 884.2,203.5 885.3,206.3 886.3,207.8 887.3,207.1 888.2,205.1 889.3,202.8 890.7,200.4 892.1,197.7 893.4,195.7 894.5,194.4 895.5,193.7 896.4,193.6 897.4,194.6 898.4,196.2 899.5,197.1 900.7,196.4 902.1,195.0 903.5,193.6 905.2,192.6 907.0,191.7 908.6,190.6 909.8,188.8 910.8,186.9 911.7,186.5 912.4,188.7 913.0,192.5 913.7,196.7 914.5,201.8 915.3,207.3 916.1,210.3 916.8,208.9 917.4,205.0 918.2,200.7 918.8,196.1 919.6,191.1 920.8,187.5 922.9,186.7 925.4,187.3 927.9,187.5 930.0,186.8 932.0,185.6 934.0,184.5 936.0,183.0 938.1,181.6 939.7,181.5 940.6,183.2 941.2,186.3 941.7,190.6 942.4,196.9 943.1,204.4 943.7,210.9 944.4,215.9 945.1,219.8 945.8,221.4 946.4,219.8 947.1,215.9 947.8,210.9 948.5,204.5 949.3,197.0 950.2,190.6 951.2,185.9 952.2,182.1 953.3,179.4 954.4,178.1 955.7,177.7 957.3,177.4 959.5,176.8 962.1,176.4 964.4,176.0 966.3,175.6 968.0,175.3 969.5,175.4 971.1,176.2 972.5,177.5 973.6,178.4" fill="none" stroke="#ff00ff" stroke-width="2.4" stroke-linejoin="round" stroke-linecap="round" />
<text x="305.0" y="252.7" font-size="23.8" text-anchor="start" fill="#000" >2956</text>
<text x="346.9" y="279.5" font-size="23.8" text-anchor="start" fill="#000" >2920</text>
<text x="384.1" y="250.9" font-size="23.8" text-anchor="start" fill="#000" >2851</text>
<text x="595.4" y="261.9" font-size="23.8" text-anchor="start" fill="#000" >1619</text>
<text x="653.1" y="275.6" font-size="23.8" text-anchor="start" fill="#000" >1594</text>
<text x="712.7" y="293.4" font-size="23.8" text-anchor="start" fill="#000" >1492</text>
<text x="734.6" y="251.2" font-size="23.8" text-anchor="start" fill="#000" >1276</text>
<text x="792.4" y="252.8" font-size="23.8" text-anchor="start" fill="#000" >1090</text>
<text x="850.9" y="268.4" font-size="23.8" text-anchor="start" fill="#000" >821</text>
<text x="908.7" y="290.3" font-size="23.8" text-anchor="start" fill="#000" >633</text>
<text x="931.5" y="251.2" font-size="23.8" text-anchor="start" fill="#000" >511</text>
<text x="449.2" y="392.1" font-size="23.8" text-anchor="start" fill="#000" >2551</text>
<text x="597.2" y="390.2" font-size="23.8" text-anchor="start" fill="#000" >1621</text>
<text x="650.1" y="420.3" font-size="23.8" text-anchor="start" fill="#000" >1594</text>
<text x="712.7" y="414.7" font-size="23.8" text-anchor="start" fill="#000" >1495</text>
<text x="737.6" y="386.9" font-size="23.8" text-anchor="start" fill="#000" >1284</text>
<text x="790.4" y="359.5" font-size="23.8" text-anchor="start" fill="#000" >1090</text>
<text x="851.3" y="396.4" font-size="23.8" text-anchor="start" fill="#000" >822</text>
<text x="898.0" y="353.4" font-size="23.8" text-anchor="start" fill="#000" >634</text>
<text x="934.5" y="378.1" font-size="23.8" text-anchor="start" fill="#000" >504</text>
<text x="296.5" y="549.5" font-size="23.8" text-anchor="start" fill="#000" >2956</text>
<text x="352.9" y="560.6" font-size="23.8" text-anchor="start" fill="#000" >2923</text>
<text x="372.1" y="511.5" font-size="23.8" text-anchor="start" fill="#000" >2852</text>
<text x="630.2" y="547.4" font-size="23.8" text-anchor="start" fill="#000" >1648</text>
<text x="713.3" y="507.9" font-size="23.8" text-anchor="start" fill="#000" >1402</text>
<text x="335.1" y="669.9" font-size="23.8" text-anchor="start" fill="#000" >2921</text>
<text x="371.9" y="641.5" font-size="23.8" text-anchor="start" fill="#000" >2853</text>
<text x="635.5" y="688.8" font-size="23.8" text-anchor="start" fill="#000" >1707</text>
<line x1="344.6" y1="229.3" x2="348.5" y2="216.3" stroke="#000" stroke-width="2.4"/><polygon points="353.5,199.8 353.4,219.1 348.5,216.3 342.9,216.0" fill="#000"/>
<line x1="367.3" y1="251.1" x2="365.7" y2="238.1" stroke="#000" stroke-width="2.4"/><polygon points="363.6,221.0 371.3,238.7 365.7,238.1 360.4,240.1" fill="#000"/>
<line x1="398.5" y1="229.3" x2="391.3" y2="219.1" stroke="#000" stroke-width="2.4"/><polygon points="381.5,205.0 396.6,217.0 391.3,219.1 387.5,223.3" fill="#000"/>
<line x1="649.4" y1="250.6" x2="661.3" y2="241.2" stroke="#000" stroke-width="2.4"/><polygon points="674.8,230.6 663.7,246.4 661.3,241.2 656.9,237.7" fill="#000"/>
<line x1="924.9" y1="260.6" x2="919.7" y2="231.9" stroke="#000" stroke-width="2.4"/><polygon points="916.7,214.9 925.4,232.2 919.7,231.9 914.6,234.1" fill="#000"/>
<line x1="463.9" y1="364.1" x2="457.3" y2="341.5" stroke="#000" stroke-width="2.4"/><polygon points="452.5,325.0 463.0,341.2 457.3,341.5 452.4,344.3" fill="#000"/>
<line x1="649.7" y1="378.9" x2="657.3" y2="375.9" stroke="#000" stroke-width="2.4"/><polygon points="673.4,369.6 658.1,381.5 657.3,375.9 654.1,371.2" fill="#000"/>
<line x1="677.9" y1="396.7" x2="679.1" y2="391.2" stroke="#000" stroke-width="2.4"/><polygon points="682.7,374.4 684.2,393.6 679.1,391.2 673.4,391.3" fill="#000"/>
<line x1="336.0" y1="524.8" x2="348.7" y2="480.5" stroke="#000" stroke-width="2.4"/><polygon points="353.5,463.9 353.7,483.2 348.7,480.5 343.1,480.2" fill="#000"/>
<line x1="659.7" y1="527.9" x2="663.3" y2="515.9" stroke="#000" stroke-width="2.4"/><polygon points="668.2,499.5 668.2,518.8 663.3,515.9 657.6,515.6" fill="#000"/>
<path d="M1152.3 38.4 H2050.5 M1159.8 38.4 V694.5 H2043.0 V38.4" fill="none" stroke="#000" stroke-width="2.4"/>
<line x1="1187.4" y1="694.5" x2="1187.4" y2="701.9" stroke="#000" stroke-width="2.4"/>
<line x1="1242.6" y1="694.5" x2="1242.6" y2="707.7" stroke="#000" stroke-width="2.4"/>
<text x="1242.6" y="742.4" font-size="34" text-anchor="middle" fill="#000" >460</text>
<line x1="1297.8" y1="694.5" x2="1297.8" y2="701.9" stroke="#000" stroke-width="2.4"/>
<line x1="1352.9" y1="694.5" x2="1352.9" y2="707.7" stroke="#000" stroke-width="2.4"/>
<text x="1352.9" y="742.4" font-size="34" text-anchor="middle" fill="#000" >480</text>
<line x1="1408.1" y1="694.5" x2="1408.1" y2="701.9" stroke="#000" stroke-width="2.4"/>
<line x1="1463.3" y1="694.5" x2="1463.3" y2="707.7" stroke="#000" stroke-width="2.4"/>
<text x="1463.3" y="742.4" font-size="34" text-anchor="middle" fill="#000" >500</text>
<line x1="1518.5" y1="694.5" x2="1518.5" y2="701.9" stroke="#000" stroke-width="2.4"/>
<line x1="1573.7" y1="694.5" x2="1573.7" y2="707.7" stroke="#000" stroke-width="2.4"/>
<text x="1573.7" y="742.4" font-size="34" text-anchor="middle" fill="#000" >520</text>
<line x1="1628.8" y1="694.5" x2="1628.8" y2="701.9" stroke="#000" stroke-width="2.4"/>
<line x1="1684.0" y1="694.5" x2="1684.0" y2="707.7" stroke="#000" stroke-width="2.4"/>
<text x="1684.0" y="742.4" font-size="34" text-anchor="middle" fill="#000" >540</text>
<line x1="1739.2" y1="694.5" x2="1739.2" y2="701.9" stroke="#000" stroke-width="2.4"/>
<line x1="1794.4" y1="694.5" x2="1794.4" y2="707.7" stroke="#000" stroke-width="2.4"/>
<text x="1794.4" y="742.4" font-size="34" text-anchor="middle" fill="#000" >560</text>
<line x1="1849.6" y1="694.5" x2="1849.6" y2="701.9" stroke="#000" stroke-width="2.4"/>
<line x1="1904.7" y1="694.5" x2="1904.7" y2="707.7" stroke="#000" stroke-width="2.4"/>
<text x="1904.7" y="742.4" font-size="34" text-anchor="middle" fill="#000" >580</text>
<line x1="1959.9" y1="694.5" x2="1959.9" y2="701.9" stroke="#000" stroke-width="2.4"/>
<line x1="2015.1" y1="694.5" x2="2015.1" y2="707.7" stroke="#000" stroke-width="2.4"/>
<text x="2015.1" y="742.4" font-size="34" text-anchor="middle" fill="#000" >600</text>
<line x1="1145.8" y1="666.1" x2="1159.8" y2="666.1" stroke="#000" stroke-width="2.4"/>
<line x1="2043.0" y1="666.1" x2="2056.8" y2="666.1" stroke="#000" stroke-width="2.4"/>
<text x="1137.0" y="675.6" font-size="34" text-anchor="end" fill="#000" >0.0</text>
<text x="2063.6" y="675.6" font-size="34" text-anchor="start" fill="#000" >0.0</text>
<line x1="1152.3" y1="609.1" x2="1159.8" y2="609.1" stroke="#000" stroke-width="2.4"/>
<line x1="2043.0" y1="609.1" x2="2050.5" y2="609.1" stroke="#000" stroke-width="2.4"/>
<line x1="1145.8" y1="552.0" x2="1159.8" y2="552.0" stroke="#000" stroke-width="2.4"/>
<line x1="2043.0" y1="552.0" x2="2056.8" y2="552.0" stroke="#000" stroke-width="2.4"/>
<text x="1137.0" y="561.5" font-size="34" text-anchor="end" fill="#000" >0.2</text>
<text x="2063.6" y="561.5" font-size="34" text-anchor="start" fill="#000" >0.2</text>
<line x1="1152.3" y1="495.0" x2="1159.8" y2="495.0" stroke="#000" stroke-width="2.4"/>
<line x1="2043.0" y1="495.0" x2="2050.5" y2="495.0" stroke="#000" stroke-width="2.4"/>
<line x1="1145.8" y1="437.9" x2="1159.8" y2="437.9" stroke="#000" stroke-width="2.4"/>
<line x1="2043.0" y1="437.9" x2="2056.8" y2="437.9" stroke="#000" stroke-width="2.4"/>
<text x="1137.0" y="447.4" font-size="34" text-anchor="end" fill="#000" >0.4</text>
<text x="2063.6" y="447.4" font-size="34" text-anchor="start" fill="#000" >0.4</text>
<line x1="1152.3" y1="380.9" x2="1159.8" y2="380.9" stroke="#000" stroke-width="2.4"/>
<line x1="2043.0" y1="380.9" x2="2050.5" y2="380.9" stroke="#000" stroke-width="2.4"/>
<line x1="1145.8" y1="323.8" x2="1159.8" y2="323.8" stroke="#000" stroke-width="2.4"/>
<line x1="2043.0" y1="323.8" x2="2056.8" y2="323.8" stroke="#000" stroke-width="2.4"/>
<text x="1137.0" y="333.3" font-size="34" text-anchor="end" fill="#000" >0.6</text>
<text x="2063.6" y="333.3" font-size="34" text-anchor="start" fill="#000" >0.6</text>
<line x1="1152.3" y1="266.8" x2="1159.8" y2="266.8" stroke="#000" stroke-width="2.4"/>
<line x1="2043.0" y1="266.8" x2="2050.5" y2="266.8" stroke="#000" stroke-width="2.4"/>
<line x1="1145.8" y1="209.7" x2="1159.8" y2="209.7" stroke="#000" stroke-width="2.4"/>
<line x1="2043.0" y1="209.7" x2="2056.8" y2="209.7" stroke="#000" stroke-width="2.4"/>
<text x="1137.0" y="219.2" font-size="34" text-anchor="end" fill="#000" >0.8</text>
<text x="2063.6" y="219.2" font-size="34" text-anchor="start" fill="#000" >0.8</text>
<line x1="1152.3" y1="152.7" x2="1159.8" y2="152.7" stroke="#000" stroke-width="2.4"/>
<line x1="2043.0" y1="152.7" x2="2050.5" y2="152.7" stroke="#000" stroke-width="2.4"/>
<line x1="1145.8" y1="95.6" x2="1159.8" y2="95.6" stroke="#000" stroke-width="2.4"/>
<line x1="2043.0" y1="95.6" x2="2056.8" y2="95.6" stroke="#000" stroke-width="2.4"/>
<text x="1137.0" y="105.1" font-size="34" text-anchor="end" fill="#000" >1.0</text>
<text x="2063.6" y="105.1" font-size="34" text-anchor="start" fill="#000" >1.0</text>
<text x="1473.3" y="786.5" font-size="38.5" text-anchor="start" fill="#000" textLength="288.2" lengthAdjust="spacingAndGlyphs" >Wavelength (nm)</text>
<text transform="translate(1067.2,591.5) rotate(-90)" font-size="39.5" textLength="399.5" lengthAdjust="spacingAndGlyphs">Normalized absorbance</text>
<text transform="translate(2131.3,159.2) rotate(90)" font-size="39.5" textLength="414.5" lengthAdjust="spacingAndGlyphs">Normalized FL intensity</text>
<text x="1030.5" y="141.4" font-size="100" text-anchor="start" fill="#000" >b</text>
<line x1="1722.7" y1="75.6" x2="1793.6" y2="75.6" stroke="#000000" stroke-width="2.4"/>
<text x="1800.6" y="86.9" font-size="32" text-anchor="start" fill="#000" textLength="101.5" lengthAdjust="spacingAndGlyphs" >QD-OA</text>
<text x="1918.8" y="86.9" font-size="32" text-anchor="start" fill="#000" textLength="43.0" lengthAdjust="spacingAndGlyphs" >UV</text>
<line x1="1722.7" y1="113.7" x2="1793.6" y2="113.7" stroke="#0000ff" stroke-width="2.4"/>
<text x="1800.6" y="125.0" font-size="32" text-anchor="start" fill="#000" textLength="101.5" lengthAdjust="spacingAndGlyphs" >QD-OA</text>
<text x="1918.8" y="125.0" font-size="32" text-anchor="start" fill="#000" textLength="39.0" lengthAdjust="spacingAndGlyphs" >FL</text>
<line x1="1722.7" y1="152.4" x2="1793.6" y2="152.4" stroke="#ff0000" stroke-width="2.4"/>
<text x="1800.6" y="163.7" font-size="32" text-anchor="start" fill="#000" textLength="134.3" lengthAdjust="spacingAndGlyphs" >QD-pATP</text>
<text x="1950.8" y="163.7" font-size="32" text-anchor="start" fill="#000" textLength="43.0" lengthAdjust="spacingAndGlyphs" >UV</text>
<line x1="1722.7" y1="190.8" x2="1793.6" y2="190.8" stroke="#ff00ff" stroke-width="2.4"/>
<text x="1800.6" y="202.1" font-size="32" text-anchor="start" fill="#000" textLength="134.3" lengthAdjust="spacingAndGlyphs" >QD-pATP</text>
<text x="1950.8" y="202.1" font-size="32" text-anchor="start" fill="#000" textLength="39.0" lengthAdjust="spacingAndGlyphs" >FL</text>
<polyline points="1187.8,96.5 1188.8,97.8 1189.9,99.1 1191.1,100.4 1192.3,101.6 1193.6,102.7 1194.8,103.8 1196.2,104.9 1197.5,106.0 1198.9,107.0 1200.4,108.0 1201.8,109.0 1203.3,110.0 1204.8,110.9 1206.4,111.8 1207.9,112.7 1209.5,113.6 1211.1,114.4 1212.7,115.3 1214.3,116.1 1215.9,117.0 1217.6,117.8 1219.2,118.6 1220.8,119.5 1222.4,120.3 1224.1,121.2 1225.7,122.0 1227.3,122.9 1228.9,123.7 1230.4,124.6 1232.0,125.5 1233.6,126.4 1235.1,127.4 1236.6,128.3 1238.1,129.3 1239.5,130.3 1240.9,131.3 1242.3,132.4 1243.7,133.4 1245.1,134.5 1246.4,135.6 1247.7,136.8 1249.0,137.9 1250.3,139.1 1251.6,140.3 1252.8,141.5 1254.1,142.7 1255.3,143.9 1256.4,145.2 1257.6,146.4 1258.8,147.7 1259.9,149.0 1261.0,150.3 1262.1,151.7 1263.2,153.0 1264.3,154.4 1265.4,155.8 1266.4,157.1 1267.5,158.5 1268.5,159.9 1269.5,161.4 1270.5,162.8 1271.5,164.2 1272.5,165.7 1273.4,167.1 1274.4,168.6 1275.4,170.1 1276.3,171.6 1277.2,173.1 1278.2,174.6 1279.1,176.1 1280.0,177.6 1280.9,179.1 1281.8,180.7 1282.7,182.2 1283.6,183.7 1284.5,185.3 1285.4,186.8 1286.2,188.4 1287.1,190.0 1288.0,191.5 1288.9,193.1 1289.7,194.6 1290.6,196.2 1291.5,197.8 1292.3,199.4 1293.2,200.9 1294.1,202.5 1295.0,204.1 1295.8,205.6 1296.7,207.2 1297.6,208.8 1298.5,210.3 1299.3,211.9 1300.2,213.4 1301.1,215.0 1302.0,216.6 1302.9,218.1 1303.8,219.7 1304.7,221.2 1305.6,222.7 1306.5,224.3 1307.4,225.8 1308.3,227.4 1309.3,228.9 1310.2,230.4 1311.1,232.0 1312.0,233.5 1313.0,235.0 1313.9,236.5 1314.8,238.1 1315.8,239.6 1316.7,241.1 1317.6,242.6 1318.6,244.1 1319.5,245.6 1320.5,247.2 1321.4,248.7 1322.4,250.2 1323.3,251.7 1324.3,253.2 1325.2,254.7 1326.2,256.2 1327.2,257.7 1328.1,259.2 1329.1,260.7 1330.1,262.2 1331.0,263.7 1332.0,265.2 1333.0,266.7 1333.9,268.2 1334.9,269.6 1335.9,271.1 1336.9,272.6 1337.8,274.1 1338.8,275.6 1339.8,277.1 1340.8,278.6 1341.8,280.0 1342.7,281.5 1343.7,283.0 1344.7,284.5 1345.7,286.0 1346.7,287.4 1347.7,288.9 1348.6,290.4 1349.6,291.9 1350.6,293.3 1351.6,294.8 1352.6,296.3 1353.6,297.7 1354.6,299.2 1355.5,300.7 1356.5,302.2 1357.5,303.6 1358.5,305.1 1359.5,306.6 1360.5,308.0 1361.5,309.5 1362.4,311.0 1363.4,312.4 1364.4,313.9 1365.4,315.4 1366.4,316.8 1367.4,318.3 1368.3,319.8 1369.3,321.2 1370.3,322.7 1371.3,324.2 1372.3,325.6 1373.2,327.1 1374.2,328.6 1375.2,330.0 1376.2,331.5 1377.1,333.0 1378.1,334.5 1379.1,335.9 1380.0,337.4 1381.0,338.9 1382.0,340.3 1382.9,341.8 1383.9,343.3 1384.9,344.7 1385.8,346.2 1386.8,347.7 1387.7,349.1 1388.7,350.6 1389.6,352.1 1390.6,353.6 1391.5,355.0 1392.5,356.5 1393.4,358.0 1394.4,359.5 1395.3,361.0 1396.3,362.4 1397.2,363.9 1398.1,365.4 1399.1,366.9 1400.0,368.4 1400.9,369.8 1401.9,371.3 1402.8,372.8 1403.7,374.3 1404.7,375.8 1405.6,377.3 1406.5,378.8 1407.5,380.3 1408.4,381.7 1409.3,383.2 1410.2,384.7 1411.2,386.2 1412.1,387.7 1413.0,389.2 1413.9,390.7 1414.9,392.2 1415.8,393.7 1416.7,395.2 1417.6,396.8 1418.6,398.3 1419.5,399.8 1420.4,401.3 1421.3,402.8 1422.2,404.3 1423.2,405.8 1424.1,407.4 1425.0,408.9 1425.9,410.4 1426.9,411.9 1427.8,413.4 1428.7,415.0 1429.7,416.5 1430.6,418.0 1431.5,419.6 1432.5,421.1 1433.4,422.6 1434.3,424.2 1435.3,425.7 1436.2,427.3 1437.1,428.8 1438.1,430.4 1439.0,431.9 1439.9,433.5 1440.9,435.0 1441.8,436.6 1442.8,438.2 1443.7,439.7 1444.7,441.3 1445.6,442.9 1446.6,444.4 1447.5,446.0 1448.5,447.6 1449.5,449.2 1450.4,450.7 1451.4,452.3 1452.4,453.9 1453.3,455.5 1454.3,457.0 1455.3,458.6 1456.3,460.2 1457.3,461.7 1458.3,463.3 1459.3,464.8 1460.3,466.3 1461.4,467.8 1462.4,469.3 1463.5,470.8 1464.6,472.2 1465.6,473.7 1466.7,475.1 1467.9,476.4 1469.0,477.8 1470.1,479.1 1471.3,480.4 1472.5,481.7 1473.7,482.9 1474.9,484.1 1476.2,485.3 1477.4,486.5 1478.7,487.5 1480.0,488.6 1481.4,489.6 1482.7,490.6 1484.1,491.5 1485.5,492.4 1486.9,493.2 1488.4,494.0 1489.9,494.8 1491.4,495.5 1493.0,496.1 1494.5,496.7 1496.1,497.2 1497.8,497.7 1499.4,498.1 1501.1,498.4 1502.8,498.7 1504.6,498.9 1506.3,499.0 1508.0,499.1 1509.8,499.0 1511.5,498.9 1513.2,498.7 1514.9,498.4 1516.6,498.1 1518.3,497.6 1519.9,497.0 1521.5,496.4 1523.1,495.6 1524.7,494.8 1526.2,493.9 1527.6,493.0 1529.1,492.0 1530.5,490.9 1531.8,489.8 1533.2,488.6 1534.5,487.3 1535.7,486.1 1536.9,484.7 1538.1,483.4 1539.3,482.0 1540.4,480.5 1541.5,479.0 1542.6,477.5 1543.6,476.0 1544.6,474.4 1545.6,472.8 1546.6,471.2 1547.5,469.6 1548.5,468.0 1549.4,466.3 1550.2,464.7 1551.1,463.1 1552.0,461.4 1552.8,459.8 1553.6,458.1 1554.4,456.5 1555.2,454.9 1556.0,453.3 1556.8,451.7 1557.5,450.1 1558.3,448.5 1559.0,446.9 1559.8,445.3 1560.5,443.7 1561.3,442.2 1562.0,440.6 1562.8,439.1 1563.5,437.5 1564.3,436.0 1565.1,434.5 1565.9,432.9 1566.7,431.4 1567.5,429.9 1568.3,428.4 1569.1,426.8 1570.0,425.3 1570.8,423.8 1571.7,422.3 1572.6,420.7 1573.6,419.2 1574.5,417.7 1575.5,416.2 1576.5,414.7 1577.6,413.1 1578.7,411.6 1579.8,410.1 1580.9,408.6 1582.1,407.1 1583.3,405.6 1584.5,404.1 1585.8,402.7 1587.0,401.4 1588.4,400.1 1589.7,398.8 1591.1,397.6 1592.5,396.5 1593.9,395.5 1595.4,394.6 1596.9,393.8 1598.4,393.0 1599.9,392.4 1601.5,391.9 1603.1,391.5 1604.7,391.2 1606.3,391.0 1607.9,391.0 1609.5,391.1 1611.1,391.2 1612.7,391.5 1614.3,391.9 1615.8,392.5 1617.3,393.1 1618.8,393.8 1620.3,394.7 1621.7,395.7 1623.1,396.7 1624.5,397.8 1625.8,399.0 1627.1,400.2 1628.4,401.5 1629.6,402.8 1630.8,404.2 1632.0,405.6 1633.1,407.0 1634.2,408.4 1635.3,409.9 1636.4,411.3 1637.4,412.8 1638.4,414.3 1639.4,415.8 1640.3,417.3 1641.2,418.8 1642.1,420.4 1643.0,421.9 1643.8,423.5 1644.7,425.1 1645.5,426.7 1646.3,428.3 1647.0,429.9 1647.8,431.5 1648.5,433.1 1649.2,434.7 1649.9,436.4 1650.6,438.0 1651.3,439.7 1651.9,441.4 1652.6,443.0 1653.2,444.7 1653.8,446.4 1654.5,448.1 1655.1,449.8 1655.7,451.4 1656.3,453.1 1656.9,454.8 1657.4,456.5 1658.0,458.2 1658.6,459.9 1659.2,461.6 1659.7,463.3 1660.3,465.0 1660.9,466.7 1661.4,468.4 1662.0,470.1 1662.6,471.8 1663.2,473.5 1663.7,475.2 1664.3,476.9 1664.9,478.6 1665.5,480.2 1666.1,481.9 1666.7,483.6 1667.4,485.2 1668.0,486.9 1668.6,488.6 1669.3,490.2 1669.9,491.8 1670.5,493.5 1671.2,495.1 1671.9,496.8 1672.5,498.4 1673.2,500.0 1673.9,501.6 1674.6,503.3 1675.2,504.9 1675.9,506.5 1676.6,508.1 1677.3,509.7 1678.0,511.3 1678.7,512.9 1679.4,514.6 1680.1,516.2 1680.8,517.8 1681.6,519.4 1682.3,521.0 1683.0,522.6 1683.7,524.2 1684.4,525.8 1685.2,527.4 1685.9,529.0 1686.6,530.6 1687.4,532.2 1688.1,533.8 1688.8,535.4 1689.6,537.0 1690.3,538.6 1691.0,540.2 1691.8,541.8 1692.5,543.4 1693.3,545.0 1694.0,546.6 1694.7,548.3 1695.5,549.9 1696.2,551.5 1696.9,553.1 1697.7,554.7 1698.4,556.4 1699.1,558.0 1699.9,559.6 1700.6,561.3 1701.3,562.9 1702.1,564.5 1702.8,566.2 1703.5,567.8 1704.3,569.4 1705.0,571.1 1705.8,572.7 1706.5,574.3 1707.3,576.0 1708.1,577.6 1708.8,579.2 1709.6,580.8 1710.4,582.4 1711.2,584.0 1712.0,585.6 1712.8,587.2 1713.7,588.8 1714.5,590.4 1715.4,591.9 1716.3,593.5 1717.1,595.0 1718.0,596.5 1719.0,598.0 1719.9,599.5 1720.9,601.0 1721.8,602.5 1722.8,604.0 1723.8,605.4 1724.9,606.8 1725.9,608.3 1727.0,609.7 1728.1,611.0 1729.2,612.4 1730.3,613.7 1731.5,615.1 1732.7,616.4 1733.9,617.7 1735.1,618.9 1736.3,620.2 1737.6,621.4 1738.9,622.6 1740.2,623.8 1741.5,625.0 1742.8,626.1 1744.2,627.2 1745.6,628.3 1746.9,629.4 1748.3,630.5 1749.8,631.5 1751.2,632.6 1752.7,633.6 1754.1,634.5 1755.6,635.5 1757.1,636.4 1758.6,637.3 1760.1,638.2 1761.7,639.1 1763.2,639.9 1764.8,640.8 1766.4,641.6 1768.0,642.3 1769.6,643.1 1771.2,643.8 1772.8,644.5 1774.4,645.2 1776.1,645.8 1777.7,646.4 1779.4,647.0 1781.0,647.6 1782.7,648.1 1784.4,648.7 1786.1,649.2 1787.8,649.6 1789.5,650.1 1791.2,650.5 1793.0,650.9 1794.7,651.3 1796.4,651.7 1798.2,652.1 1799.9,652.4 1801.6,652.7 1803.4,653.1 1805.1,653.4 1806.9,653.6 1808.7,653.9 1810.4,654.2 1812.2,654.5 1814.0,654.7 1815.7,655.0 1817.5,655.2 1819.2,655.5 1821.0,655.7 1822.8,655.9 1824.5,656.2 1826.3,656.4 1828.1,656.6 1829.8,656.8 1831.6,657.0 1833.4,657.2 1835.1,657.5 1836.9,657.7 1838.7,657.9 1840.4,658.0 1842.2,658.2 1844.0,658.4 1845.7,658.6 1847.5,658.8 1849.3,659.0 1851.0,659.1 1852.8,659.3 1854.6,659.5 1856.3,659.7 1858.1,659.8 1859.9,660.0 1861.6,660.1 1863.4,660.3 1865.1,660.4 1866.9,660.6 1868.7,660.7 1870.4,660.9 1872.2,661.0 1874.0,661.1 1875.7,661.3 1877.5,661.4 1879.3,661.5 1881.0,661.6 1882.8,661.8 1884.6,661.9 1886.3,662.0 1888.1,662.1 1889.9,662.2 1891.6,662.3 1893.4,662.4 1895.2,662.5 1896.9,662.6 1898.7,662.7 1900.5,662.8 1902.3,662.9 1904.0,663.0 1905.8,663.1 1907.6,663.2 1909.3,663.3 1911.1,663.3 1912.9,663.4 1914.6,663.5 1916.4,663.6 1918.2,663.7 1919.9,663.7 1921.7,663.8 1923.5,663.9 1925.2,663.9 1927.0,664.0 1928.8,664.1 1930.6,664.1 1932.3,664.2 1934.1,664.2 1935.9,664.3 1937.6,664.3 1939.4,664.4 1941.2,664.4 1942.9,664.5 1944.7,664.5 1946.5,664.6 1948.3,664.6 1950.0,664.7 1951.8,664.7 1953.6,664.8 1955.4,664.8 1957.1,664.8 1958.9,664.9 1960.7,664.9 1962.4,665.0 1964.2,665.0 1966.0,665.0 1967.8,665.1 1969.5,665.1 1971.3,665.1 1973.1,665.1 1974.9,665.2 1976.6,665.2 1978.4,665.2 1980.2,665.3 1982.0,665.3 1983.8,665.3 1985.5,665.3 1987.3,665.4 1989.1,665.4 1990.9,665.4 1992.6,665.4 1994.4,665.5 1996.2,665.5 1998.0,665.5 1999.8,665.5 2001.5,665.5 2003.3,665.6 2005.1,665.6 2006.9,665.6 2008.7,665.6 2010.4,665.6 2012.2,665.7 2014.0,665.7 2015.8,665.7" fill="none" stroke="#000000" stroke-width="2.4" stroke-linejoin="round" stroke-linecap="round" />
<polyline points="1187.5,94.7 1189.1,95.6 1190.7,96.4 1192.2,97.3 1193.7,98.2 1195.3,99.1 1196.8,100.0 1198.2,100.9 1199.7,101.9 1201.2,102.8 1202.6,103.8 1204.1,104.8 1205.5,105.7 1206.9,106.7 1208.3,107.7 1209.7,108.8 1211.0,109.8 1212.4,110.8 1213.8,111.9 1215.1,112.9 1216.4,114.0 1217.7,115.1 1219.0,116.2 1220.3,117.3 1221.6,118.4 1222.9,119.5 1224.1,120.6 1225.3,121.8 1226.6,122.9 1227.8,124.1 1229.0,125.2 1230.2,126.4 1231.4,127.6 1232.6,128.8 1233.8,130.0 1234.9,131.2 1236.1,132.4 1237.2,133.7 1238.4,134.9 1239.5,136.1 1240.6,137.4 1241.7,138.7 1242.8,139.9 1243.9,141.2 1245.0,142.5 1246.0,143.8 1247.1,145.1 1248.2,146.4 1249.2,147.7 1250.3,149.0 1251.3,150.3 1252.3,151.6 1253.3,153.0 1254.3,154.3 1255.3,155.7 1256.3,157.0 1257.3,158.4 1258.3,159.8 1259.3,161.1 1260.3,162.5 1261.2,163.9 1262.2,165.3 1263.1,166.7 1264.1,168.1 1265.0,169.5 1266.0,170.9 1266.9,172.3 1267.8,173.7 1268.8,175.1 1269.7,176.6 1270.6,178.0 1271.5,179.4 1272.4,180.9 1273.3,182.3 1274.2,183.8 1275.1,185.2 1276.0,186.7 1276.8,188.1 1277.7,189.6 1278.6,191.0 1279.5,192.5 1280.3,194.0 1281.2,195.4 1282.1,196.9 1282.9,198.4 1283.8,199.9 1284.7,201.3 1285.5,202.8 1286.4,204.3 1287.2,205.8 1288.1,207.3 1288.9,208.8 1289.7,210.2 1290.6,211.7 1291.4,213.2 1292.3,214.7 1293.1,216.2 1294.0,217.7 1294.8,219.2 1295.6,220.7 1296.5,222.2 1297.3,223.7 1298.1,225.2 1299.0,226.7 1299.8,228.2 1300.7,229.7 1301.5,231.2 1302.3,232.7 1303.2,234.2 1304.0,235.6 1304.9,237.1 1305.7,238.6 1306.5,240.1 1307.4,241.6 1308.2,243.1 1309.1,244.6 1309.9,246.1 1310.8,247.5 1311.6,249.0 1312.5,250.5 1313.4,252.0 1314.2,253.5 1315.1,254.9 1315.9,256.4 1316.8,257.9 1317.7,259.3 1318.6,260.8 1319.4,262.3 1320.3,263.7 1321.2,265.2 1322.1,266.7 1322.9,268.1 1323.8,269.6 1324.7,271.0 1325.6,272.5 1326.5,273.9 1327.4,275.4 1328.2,276.8 1329.1,278.3 1330.0,279.7 1330.9,281.2 1331.8,282.6 1332.7,284.1 1333.6,285.5 1334.5,287.0 1335.4,288.4 1336.3,289.8 1337.2,291.3 1338.1,292.7 1339.0,294.1 1339.9,295.6 1340.9,297.0 1341.8,298.4 1342.7,299.9 1343.6,301.3 1344.5,302.7 1345.4,304.2 1346.3,305.6 1347.3,307.0 1348.2,308.4 1349.1,309.9 1350.0,311.3 1350.9,312.7 1351.9,314.1 1352.8,315.5 1353.7,317.0 1354.6,318.4 1355.6,319.8 1356.5,321.2 1357.4,322.6 1358.4,324.1 1359.3,325.5 1360.2,326.9 1361.2,328.3 1362.1,329.7 1363.0,331.1 1364.0,332.5 1364.9,333.9 1365.8,335.4 1366.8,336.8 1367.7,338.2 1368.6,339.6 1369.6,341.0 1370.5,342.4 1371.5,343.8 1372.4,345.2 1373.3,346.6 1374.3,348.0 1375.2,349.4 1376.2,350.9 1377.1,352.3 1378.0,353.7 1379.0,355.1 1379.9,356.5 1380.9,357.9 1381.8,359.3 1382.8,360.7 1383.7,362.1 1384.7,363.5 1385.6,364.9 1386.5,366.3 1387.5,367.7 1388.4,369.1 1389.4,370.5 1390.3,371.9 1391.3,373.3 1392.2,374.7 1393.2,376.2 1394.1,377.6 1395.1,379.0 1396.0,380.4 1396.9,381.8 1397.9,383.2 1398.8,384.6 1399.8,386.0 1400.7,387.4 1401.7,388.8 1402.6,390.2 1403.6,391.6 1404.5,393.0 1405.5,394.4 1406.4,395.9 1407.3,397.3 1408.3,398.7 1409.2,400.1 1410.2,401.5 1411.1,402.9 1412.0,404.3 1413.0,405.7 1413.9,407.1 1414.9,408.6 1415.8,410.0 1416.7,411.4 1417.7,412.8 1418.6,414.2 1419.6,415.6 1420.5,417.0 1421.4,418.5 1422.4,419.9 1423.3,421.3 1424.2,422.7 1425.2,424.1 1426.1,425.6 1427.0,427.0 1428.0,428.4 1428.9,429.8 1429.8,431.3 1430.7,432.7 1431.7,434.1 1432.6,435.5 1433.5,437.0 1434.4,438.4 1435.4,439.8 1436.3,441.3 1437.2,442.7 1438.1,444.1 1439.1,445.6 1440.0,447.0 1440.9,448.4 1441.9,449.8 1442.8,451.2 1443.8,452.6 1444.7,454.0 1445.7,455.4 1446.7,456.8 1447.7,458.2 1448.7,459.6 1449.7,461.0 1450.7,462.3 1451.7,463.7 1452.8,465.0 1453.8,466.3 1454.9,467.7 1456.0,469.0 1457.1,470.3 1458.3,471.5 1459.4,472.8 1460.6,474.1 1461.7,475.3 1463.0,476.5 1464.2,477.7 1465.4,478.9 1466.7,480.1 1468.0,481.2 1469.3,482.4 1470.7,483.5 1472.0,484.6 1473.4,485.7 1474.8,486.7 1476.3,487.7 1477.8,488.7 1479.2,489.6 1480.7,490.5 1482.3,491.3 1483.8,492.1 1485.3,492.8 1486.9,493.4 1488.5,494.0 1490.1,494.5 1491.7,494.9 1493.3,495.2 1494.9,495.4 1496.5,495.5 1498.2,495.6 1499.8,495.5 1501.4,495.4 1503.0,495.2 1504.7,494.9 1506.3,494.6 1507.9,494.1 1509.5,493.6 1511.1,493.1 1512.7,492.5 1514.2,491.8 1515.8,491.1 1517.3,490.3 1518.9,489.4 1520.3,488.6 1521.8,487.6 1523.3,486.7 1524.7,485.7 1526.1,484.6 1527.4,483.6 1528.8,482.5 1530.1,481.4 1531.3,480.2 1532.6,479.1 1533.8,477.9 1534.9,476.7 1536.1,475.5 1537.2,474.2 1538.3,473.0 1539.4,471.7 1540.4,470.4 1541.5,469.1 1542.5,467.8 1543.5,466.5 1544.5,465.1 1545.5,463.8 1546.5,462.4 1547.4,461.0 1548.4,459.6 1549.3,458.2 1550.3,456.8 1551.3,455.4 1552.2,454.0 1553.2,452.5 1554.1,451.1 1555.1,449.7 1556.1,448.2 1557.1,446.8 1558.1,445.3 1559.1,443.9 1560.1,442.5 1561.1,441.0 1562.1,439.6 1563.2,438.2 1564.2,436.8 1565.3,435.4 1566.4,434.1 1567.5,432.7 1568.6,431.4 1569.8,430.1 1571.0,428.8 1572.1,427.6 1573.3,426.3 1574.6,425.1 1575.8,424.0 1577.1,422.8 1578.4,421.7 1579.7,420.7 1581.0,419.6 1582.4,418.7 1583.8,417.7 1585.2,416.8 1586.7,415.9 1588.2,415.1 1589.7,414.4 1591.2,413.7 1592.8,413.1 1594.4,412.5 1596.0,412.1 1597.6,411.9 1599.2,411.8 1600.8,411.9 1602.4,412.2 1604.0,412.6 1605.6,413.2 1607.1,413.8 1608.6,414.5 1610.0,415.3 1611.4,416.1 1612.8,416.9 1614.2,417.9 1615.5,418.8 1616.8,419.8 1618.1,420.8 1619.3,421.9 1620.6,423.0 1621.7,424.2 1622.9,425.4 1624.1,426.6 1625.2,427.8 1626.3,429.1 1627.4,430.4 1628.4,431.7 1629.5,433.1 1630.5,434.4 1631.5,435.8 1632.5,437.2 1633.5,438.6 1634.5,440.1 1635.4,441.5 1636.4,443.0 1637.3,444.4 1638.2,445.9 1639.1,447.3 1640.0,448.8 1640.9,450.3 1641.8,451.7 1642.7,453.2 1643.6,454.7 1644.4,456.2 1645.3,457.7 1646.1,459.2 1647.0,460.7 1647.8,462.2 1648.6,463.7 1649.4,465.2 1650.2,466.7 1651.0,468.3 1651.8,469.8 1652.6,471.3 1653.4,472.8 1654.2,474.3 1655.0,475.9 1655.8,477.4 1656.5,478.9 1657.3,480.5 1658.1,482.0 1658.8,483.6 1659.6,485.1 1660.3,486.6 1661.1,488.2 1661.8,489.7 1662.5,491.3 1663.3,492.8 1664.0,494.4 1664.7,495.9 1665.5,497.5 1666.2,499.0 1666.9,500.6 1667.7,502.1 1668.4,503.7 1669.1,505.2 1669.8,506.8 1670.5,508.3 1671.3,509.9 1672.0,511.4 1672.7,513.0 1673.4,514.5 1674.2,516.1 1674.9,517.6 1675.6,519.1 1676.3,520.7 1677.1,522.2 1677.8,523.8 1678.5,525.3 1679.3,526.8 1680.0,528.4 1680.8,529.9 1681.5,531.4 1682.2,532.9 1683.0,534.5 1683.8,536.0 1684.5,537.5 1685.3,539.0 1686.0,540.5 1686.8,542.0 1687.6,543.5 1688.4,545.0 1689.2,546.5 1690.0,548.0 1690.8,549.5 1691.6,551.0 1692.4,552.5 1693.2,553.9 1694.0,555.4 1694.8,556.9 1695.7,558.3 1696.5,559.8 1697.4,561.2 1698.2,562.7 1699.1,564.1 1700.0,565.6 1700.9,567.0 1701.8,568.4 1702.7,569.8 1703.6,571.3 1704.5,572.7 1705.4,574.1 1706.4,575.5 1707.3,576.8 1708.3,578.2 1709.2,579.6 1710.2,581.0 1711.2,582.3 1712.2,583.7 1713.2,585.0 1714.3,586.4 1715.3,587.7 1716.4,589.0 1717.4,590.3 1718.5,591.6 1719.6,592.9 1720.7,594.2 1721.8,595.5 1722.9,596.8 1724.0,598.0 1725.2,599.3 1726.3,600.5 1727.5,601.7 1728.7,602.9 1729.9,604.1 1731.1,605.3 1732.3,606.5 1733.5,607.7 1734.8,608.8 1736.0,609.9 1737.3,611.1 1738.6,612.2 1739.9,613.3 1741.2,614.3 1742.5,615.4 1743.8,616.4 1745.1,617.5 1746.5,618.5 1747.8,619.5 1749.2,620.4 1750.6,621.4 1752.0,622.3 1753.4,623.3 1754.9,624.2 1756.3,625.1 1757.7,625.9 1759.2,626.8 1760.7,627.6 1762.2,628.4 1763.7,629.2 1765.2,630.0 1766.7,630.7 1768.3,631.5 1769.8,632.2 1771.4,632.9 1772.9,633.6 1774.5,634.2 1776.1,634.9 1777.7,635.5 1779.3,636.1 1780.9,636.7 1782.5,637.3 1784.1,637.9 1785.8,638.4 1787.4,639.0 1789.0,639.5 1790.7,640.0 1792.3,640.5 1794.0,641.0 1795.6,641.5 1797.3,642.0 1799.0,642.5 1800.6,642.9 1802.3,643.4 1803.9,643.8 1805.6,644.3 1807.3,644.7 1808.9,645.1 1810.6,645.5 1812.2,645.9 1813.9,646.3 1815.6,646.7 1817.2,647.1 1818.9,647.5 1820.5,647.9 1822.2,648.2 1823.8,648.6 1825.5,648.9 1827.2,649.3 1828.8,649.6 1830.5,649.9 1832.1,650.2 1833.8,650.5 1835.4,650.8 1837.1,651.1 1838.7,651.3 1840.4,651.6 1842.1,651.8 1843.7,652.1 1845.4,652.3 1847.0,652.5 1848.7,652.7 1850.4,652.9 1852.0,653.1 1853.7,653.2 1855.4,653.4 1857.1,653.5 1858.7,653.6 1860.4,653.7 1862.1,653.8 1863.8,653.9 1865.5,654.0 1867.1,654.0 1868.8,654.0 1870.5,654.1 1872.2,654.1 1873.9,654.1 1875.6,654.1 1877.3,654.0 1879.0,654.0 1880.7,654.0 1882.4,653.9 1884.1,653.9 1885.8,653.8 1887.5,653.8 1889.2,653.7 1891.0,653.7 1892.7,653.6 1894.4,653.6 1896.1,653.5 1897.8,653.5 1899.5,653.4 1901.2,653.4 1902.9,653.3 1904.6,653.3 1906.3,653.3 1908.0,653.3 1909.7,653.3 1911.5,653.3 1913.2,653.3 1914.9,653.3 1916.6,653.4 1918.3,653.4 1920.0,653.5 1921.7,653.6 1923.3,653.7 1925.0,653.8 1926.7,654.0 1928.4,654.2 1930.1,654.3 1931.8,654.6 1933.5,654.8 1935.1,655.0 1936.8,655.3 1938.5,655.6 1940.2,655.9 1941.8,656.2 1943.5,656.5 1945.2,656.9 1946.8,657.2 1948.5,657.6 1950.1,657.9 1951.8,658.3 1953.5,658.7 1955.1,659.1 1956.8,659.5 1958.4,659.8 1960.1,660.2 1961.8,660.6 1963.4,661.0 1965.1,661.4 1966.7,661.7 1968.4,662.1 1970.1,662.5 1971.7,662.8 1973.4,663.1 1975.1,663.5 1976.7,663.8 1978.4,664.1 1980.1,664.3 1981.7,664.6 1983.4,664.9 1985.1,665.1 1986.8,665.3 1988.5,665.5 1990.1,665.6 1991.8,665.8 1993.5,665.9 1995.2,666.0 1996.9,666.0 1998.6,666.0 2000.3,666.0 2002.0,666.0 2003.7,665.9 2005.5,665.8 2007.2,665.6 2008.9,665.5 2010.6,665.2 2012.4,665.0 2014.1,664.7 2015.8,664.3" fill="none" stroke="#ff0000" stroke-width="2.4" stroke-linejoin="round" stroke-linecap="round" />
<polyline points="1186.5,666.1 1188.9,666.1 1191.3,666.2 1193.7,666.2 1196.2,666.2 1198.6,666.2 1201.0,666.2 1203.4,666.3 1205.8,666.3 1208.3,666.3 1210.7,666.3 1213.1,666.3 1215.5,666.3 1217.9,666.3 1220.3,666.3 1222.7,666.3 1225.2,666.3 1227.6,666.3 1230.0,666.4 1232.4,666.4 1234.8,666.4 1237.2,666.4 1239.6,666.4 1242.0,666.4 1244.4,666.3 1246.8,666.3 1249.3,666.3 1251.7,666.3 1254.1,666.3 1256.5,666.3 1258.9,666.3 1261.3,666.3 1263.7,666.3 1266.1,666.3 1268.5,666.3 1270.9,666.3 1273.3,666.3 1275.7,666.3 1278.1,666.2 1280.5,666.2 1282.9,666.2 1285.3,666.2 1287.7,666.2 1290.1,666.2 1292.5,666.2 1294.9,666.1 1297.3,666.1 1299.7,666.1 1302.1,666.1 1304.5,666.1 1306.9,666.1 1309.4,666.1 1311.8,666.0 1314.2,666.0 1316.6,666.0 1319.0,666.0 1321.4,666.0 1323.8,666.0 1326.2,665.9 1328.6,665.9 1331.0,665.9 1333.4,665.9 1335.8,665.9 1338.2,665.9 1340.6,665.8 1343.0,665.8 1345.4,665.8 1347.8,665.8 1350.2,665.8 1352.6,665.8 1355.0,665.7 1357.4,665.7 1359.8,665.7 1362.2,665.7 1364.6,665.7 1367.1,665.7 1369.5,665.7 1371.9,665.6 1374.3,665.6 1376.7,665.6 1379.1,665.6 1381.5,665.6 1383.9,665.6 1386.3,665.6 1388.7,665.6 1391.2,665.6 1393.6,665.5 1396.0,665.5 1398.4,665.5 1400.8,665.5 1403.2,665.5 1405.7,665.5 1408.1,665.5 1410.5,665.5 1412.9,665.5 1415.3,665.5 1417.7,665.5 1420.2,665.5 1422.6,665.5 1425.0,665.5 1427.4,665.5 1429.9,665.5 1432.3,665.5 1434.7,665.5 1437.1,665.5 1439.6,665.5 1442.0,665.5 1444.4,665.5 1446.8,665.5 1449.3,665.5 1451.7,665.5 1454.1,665.4 1456.5,665.4 1459.0,665.3 1461.4,665.2 1463.8,665.1 1466.2,665.0 1468.6,664.9 1471.0,664.7 1473.4,664.5 1475.8,664.3 1478.2,664.1 1480.5,663.8 1482.9,663.6 1485.3,663.3 1487.6,662.9 1490.0,662.6 1492.4,662.2 1494.7,661.7 1497.0,661.3 1499.4,660.7 1501.7,660.2 1504.0,659.6 1506.3,659.0 1508.6,658.3 1510.9,657.6 1513.2,656.9 1515.4,656.1 1517.7,655.2 1519.9,654.3 1522.1,653.4 1524.3,652.4 1526.5,651.3 1528.6,650.2 1530.7,649.0 1532.7,647.8 1534.8,646.5 1536.7,645.2 1538.6,643.8 1540.4,642.3 1542.2,640.8 1543.9,639.2 1545.6,637.5 1547.2,635.8 1548.6,633.9 1550.0,632.1 1551.4,630.1 1552.6,628.1 1553.8,626.0 1554.9,623.9 1556.0,621.7 1557.0,619.5 1557.9,617.2 1558.9,614.9 1559.7,612.6 1560.5,610.2 1561.4,607.8 1562.1,605.4 1562.9,603.0 1563.6,600.6 1564.4,598.2 1565.1,595.8 1565.8,593.5 1566.5,591.1 1567.3,588.7 1568.0,586.4 1568.7,584.1 1569.5,581.7 1570.2,579.4 1571.0,577.1 1571.7,574.8 1572.4,572.6 1573.2,570.3 1573.9,568.0 1574.6,565.8 1575.3,563.5 1576.0,561.2 1576.7,559.0 1577.4,556.7 1578.1,554.4 1578.7,552.2 1579.4,549.9 1580.0,547.6 1580.6,545.3 1581.2,543.0 1581.8,540.7 1582.4,538.4 1582.9,536.1 1583.5,533.8 1584.0,531.4 1584.5,529.1 1585.0,526.8 1585.5,524.4 1586.0,522.1 1586.5,519.7 1586.9,517.3 1587.4,515.0 1587.8,512.6 1588.3,510.2 1588.7,507.9 1589.1,505.5 1589.5,503.1 1589.9,500.7 1590.3,498.3 1590.7,495.9 1591.1,493.6 1591.5,491.2 1591.9,488.8 1592.3,486.4 1592.7,484.0 1593.0,481.6 1593.4,479.2 1593.8,476.8 1594.2,474.4 1594.5,472.0 1594.9,469.7 1595.3,467.3 1595.7,464.9 1596.0,462.5 1596.4,460.1 1596.8,457.7 1597.2,455.3 1597.5,453.0 1597.9,450.6 1598.3,448.2 1598.7,445.8 1599.0,443.4 1599.4,441.1 1599.8,438.7 1600.2,436.3 1600.6,433.9 1600.9,431.6 1601.3,429.2 1601.7,426.8 1602.1,424.4 1602.5,422.1 1602.8,419.7 1603.2,417.3 1603.6,414.9 1604.0,412.6 1604.4,410.2 1604.8,407.8 1605.2,405.4 1605.5,403.1 1605.9,400.7 1606.3,398.3 1606.7,396.0 1607.1,393.6 1607.5,391.2 1607.9,388.9 1608.3,386.5 1608.7,384.1 1609.1,381.7 1609.5,379.4 1609.9,377.0 1610.3,374.6 1610.7,372.3 1611.1,369.9 1611.5,367.5 1611.9,365.1 1612.3,362.8 1612.7,360.4 1613.1,358.0 1613.6,355.7 1614.0,353.3 1614.4,350.9 1614.8,348.5 1615.2,346.2 1615.6,343.8 1616.0,341.4 1616.5,339.1 1616.9,336.7 1617.3,334.3 1617.7,331.9 1618.1,329.6 1618.5,327.2 1619.0,324.8 1619.4,322.4 1619.8,320.1 1620.2,317.7 1620.6,315.3 1621.0,312.9 1621.5,310.6 1621.9,308.2 1622.3,305.8 1622.7,303.5 1623.1,301.1 1623.5,298.7 1623.9,296.3 1624.3,294.0 1624.7,291.6 1625.1,289.2 1625.5,286.8 1625.9,284.5 1626.3,282.1 1626.7,279.7 1627.1,277.3 1627.5,275.0 1627.9,272.6 1628.3,270.2 1628.6,267.8 1629.0,265.5 1629.4,263.1 1629.8,260.7 1630.1,258.3 1630.5,256.0 1630.9,253.6 1631.2,251.2 1631.6,248.8 1631.9,246.5 1632.3,244.1 1632.7,241.7 1633.0,239.3 1633.4,237.0 1633.7,234.6 1634.0,232.2 1634.4,229.8 1634.7,227.4 1635.1,225.1 1635.4,222.7 1635.8,220.3 1636.1,217.9 1636.5,215.6 1636.8,213.2 1637.1,210.8 1637.5,208.4 1637.8,206.1 1638.2,203.7 1638.5,201.3 1638.9,198.9 1639.3,196.6 1639.6,194.2 1640.0,191.8 1640.3,189.4 1640.7,187.1 1641.1,184.7 1641.5,182.3 1641.8,179.9 1642.2,177.6 1642.6,175.2 1643.0,172.8 1643.4,170.4 1643.8,168.0 1644.2,165.7 1644.6,163.3 1645.0,160.9 1645.5,158.5 1645.9,156.2 1646.3,153.8 1646.8,151.4 1647.2,149.0 1647.7,146.6 1648.1,144.3 1648.6,141.9 1649.1,139.5 1649.6,137.1 1650.1,134.8 1650.6,132.4 1651.1,130.0 1651.7,127.6 1652.2,125.3 1652.9,123.0 1653.5,120.6 1654.3,118.3 1655.1,116.1 1655.9,113.9 1656.9,111.7 1657.9,109.5 1659.1,107.4 1660.3,105.3 1661.7,103.3 1663.2,101.4 1664.8,99.5 1666.6,97.8 1668.4,96.5 1670.3,95.6 1672.2,95.3 1674.1,95.9 1676.1,97.1 1677.9,98.9 1679.5,101.1 1680.9,103.2 1682.1,105.5 1683.1,107.7 1684.0,109.9 1684.8,112.2 1685.6,114.5 1686.3,116.8 1687.0,119.1 1687.7,121.3 1688.5,123.6 1689.2,125.9 1689.9,128.2 1690.5,130.5 1691.2,132.9 1691.9,135.2 1692.5,137.5 1693.2,139.8 1693.8,142.1 1694.5,144.5 1695.1,146.8 1695.7,149.1 1696.3,151.4 1696.8,153.8 1697.4,156.1 1698.0,158.5 1698.5,160.8 1699.1,163.1 1699.6,165.5 1700.1,167.8 1700.7,170.2 1701.2,172.5 1701.7,174.9 1702.2,177.2 1702.7,179.6 1703.1,182.0 1703.6,184.3 1704.1,186.7 1704.5,189.0 1705.0,191.4 1705.4,193.8 1705.9,196.1 1706.3,198.5 1706.8,200.9 1707.2,203.2 1707.6,205.6 1708.0,208.0 1708.5,210.3 1708.9,212.7 1709.3,215.1 1709.7,217.5 1710.1,219.8 1710.5,222.2 1710.9,224.6 1711.3,227.0 1711.7,229.3 1712.1,231.7 1712.5,234.1 1712.9,236.5 1713.3,238.8 1713.7,241.2 1714.1,243.6 1714.5,246.0 1714.9,248.3 1715.3,250.7 1715.7,253.1 1716.1,255.5 1716.5,257.8 1716.8,260.2 1717.2,262.6 1717.6,265.0 1718.0,267.3 1718.4,269.7 1718.8,272.1 1719.2,274.5 1719.6,276.8 1720.0,279.2 1720.4,281.6 1720.8,284.0 1721.2,286.3 1721.6,288.7 1722.0,291.1 1722.4,293.5 1722.8,295.8 1723.2,298.2 1723.6,300.6 1724.0,302.9 1724.5,305.3 1724.9,307.7 1725.3,310.1 1725.7,312.4 1726.1,314.8 1726.5,317.2 1726.9,319.5 1727.3,321.9 1727.7,324.3 1728.1,326.7 1728.5,329.0 1729.0,331.4 1729.4,333.8 1729.8,336.1 1730.2,338.5 1730.6,340.9 1731.0,343.2 1731.5,345.6 1731.9,348.0 1732.3,350.4 1732.7,352.7 1733.2,355.1 1733.6,357.5 1734.0,359.8 1734.4,362.2 1734.9,364.6 1735.3,366.9 1735.7,369.3 1736.2,371.7 1736.6,374.0 1737.0,376.4 1737.5,378.8 1737.9,381.1 1738.4,383.5 1738.8,385.9 1739.2,388.2 1739.7,390.6 1740.1,393.0 1740.6,395.3 1741.0,397.7 1741.5,400.1 1741.9,402.4 1742.4,404.8 1742.8,407.2 1743.3,409.5 1743.8,411.9 1744.2,414.3 1744.7,416.6 1745.2,419.0 1745.6,421.3 1746.1,423.7 1746.6,426.1 1747.0,428.4 1747.5,430.8 1748.0,433.2 1748.5,435.5 1748.9,437.9 1749.4,440.2 1749.9,442.6 1750.4,445.0 1750.9,447.3 1751.4,449.7 1751.9,452.0 1752.4,454.4 1752.9,456.8 1753.4,459.1 1753.9,461.5 1754.4,463.8 1754.9,466.2 1755.4,468.5 1755.9,470.9 1756.4,473.3 1756.9,475.6 1757.4,478.0 1758.0,480.3 1758.5,482.7 1759.0,485.0 1759.5,487.4 1760.1,489.7 1760.6,492.1 1761.1,494.5 1761.7,496.8 1762.2,499.2 1762.8,501.5 1763.4,503.8 1763.9,506.2 1764.5,508.5 1765.1,510.9 1765.7,513.2 1766.3,515.5 1766.9,517.8 1767.6,520.2 1768.2,522.5 1768.8,524.8 1769.5,527.1 1770.2,529.4 1770.9,531.7 1771.6,534.0 1772.3,536.3 1773.0,538.6 1773.7,540.8 1774.5,543.1 1775.3,545.4 1776.0,547.6 1776.8,549.9 1777.7,552.1 1778.5,554.4 1779.4,556.6 1780.2,558.8 1781.1,561.0 1782.0,563.2 1783.0,565.4 1783.9,567.6 1784.9,569.8 1785.9,572.0 1786.9,574.1 1787.9,576.3 1789.0,578.4 1790.1,580.6 1791.2,582.7 1792.3,584.8 1793.5,586.9 1794.7,589.0 1795.9,591.1 1797.1,593.2 1798.4,595.2 1799.7,597.3 1801.0,599.3 1802.3,601.3 1803.7,603.3 1805.1,605.3 1806.5,607.3 1808.0,609.2 1809.4,611.2 1810.9,613.1 1812.5,614.9 1814.0,616.8 1815.6,618.6 1817.3,620.4 1818.9,622.2 1820.6,623.9 1822.3,625.6 1824.0,627.3 1825.8,629.0 1827.6,630.6 1829.4,632.1 1831.2,633.6 1833.1,635.1 1835.0,636.5 1836.9,637.9 1838.9,639.3 1840.9,640.6 1842.9,641.8 1844.9,643.0 1847.0,644.2 1849.1,645.3 1851.2,646.3 1853.4,647.3 1855.6,648.3 1857.8,649.2 1860.0,650.1 1862.2,650.9 1864.5,651.7 1866.8,652.4 1869.1,653.1 1871.4,653.8 1873.7,654.5 1876.0,655.1 1878.4,655.6 1880.8,656.2 1883.1,656.7 1885.5,657.2 1887.9,657.7 1890.3,658.1 1892.7,658.5 1895.1,658.9 1897.5,659.3 1900.0,659.6 1902.4,659.9 1904.8,660.2 1907.2,660.5 1909.6,660.8 1912.0,661.1 1914.5,661.3 1916.9,661.6 1919.3,661.8 1921.7,662.0 1924.1,662.2 1926.5,662.4 1928.9,662.6 1931.2,662.8 1933.6,663.0 1936.0,663.1 1938.4,663.3 1940.8,663.4 1943.2,663.6 1945.6,663.7 1947.9,663.8 1950.3,663.9 1952.7,664.0 1955.1,664.1 1957.5,664.2 1959.9,664.3 1962.3,664.4 1964.6,664.5 1967.0,664.5 1969.4,664.6 1971.8,664.7 1974.2,664.7 1976.6,664.8 1979.0,664.8 1981.4,664.9 1983.8,664.9 1986.2,664.9 1988.7,665.0 1991.1,665.0 1993.5,665.0 1995.9,665.1 1998.4,665.1 2000.8,665.1 2003.3,665.2 2005.7,665.2 2008.2,665.2" fill="none" stroke="#0000ff" stroke-width="2.4" stroke-linejoin="round" stroke-linecap="round" />
<polyline points="1186.5,536.1 1189.1,535.2 1191.3,535.4 1193.4,536.4 1195.3,537.9 1197.2,539.5 1199.1,541.2 1201.0,542.8 1202.8,544.4 1204.7,545.9 1206.7,547.3 1208.6,548.7 1210.6,550.0 1212.7,551.2 1214.8,552.3 1216.9,553.3 1219.2,554.2 1221.4,555.0 1223.8,555.7 1226.1,556.3 1228.5,556.9 1231.0,557.4 1233.4,557.9 1235.8,558.3 1238.2,558.7 1240.6,559.1 1242.9,559.4 1245.3,559.8 1247.7,560.1 1250.0,560.4 1252.4,560.7 1254.8,561.1 1257.2,561.4 1259.6,561.8 1262.0,562.1 1264.4,562.4 1266.9,562.6 1269.3,562.7 1271.7,562.9 1274.1,563.0 1276.5,563.3 1278.9,563.7 1281.2,564.3 1283.5,565.1 1285.8,565.9 1288.1,566.7 1290.4,567.6 1292.7,568.3 1295.0,569.1 1297.3,569.8 1299.6,570.6 1301.8,571.5 1304.0,572.5 1306.1,573.7 1308.2,574.9 1310.3,576.1 1312.4,577.3 1314.6,578.4 1316.8,579.5 1319.0,580.5 1321.2,581.4 1323.5,582.3 1325.6,583.4 1327.8,584.5 1329.8,585.8 1331.8,587.1 1333.8,588.5 1335.8,589.9 1337.9,591.2 1340.0,592.3 1342.2,593.4 1344.4,594.3 1346.6,595.3 1348.8,596.3 1350.9,597.5 1353.0,598.8 1355.0,600.1 1356.9,601.5 1358.9,602.9 1361.0,604.2 1363.1,605.4 1365.2,606.5 1367.4,607.7 1369.5,608.9 1371.5,610.0 1373.6,611.2 1375.8,612.3 1378.0,613.2 1380.2,614.1 1382.5,614.9 1384.8,615.6 1387.1,616.4 1389.4,617.2 1391.7,617.9 1394.0,618.7 1396.3,619.4 1398.6,620.1 1401.0,620.9 1403.3,621.6 1405.6,622.2 1407.9,622.9 1410.3,623.5 1412.6,624.0 1415.0,624.6 1417.3,625.0 1419.7,625.5 1422.1,625.9 1424.5,626.3 1426.9,626.7 1429.3,627.0 1431.7,627.4 1434.1,627.7 1436.5,628.0 1438.9,628.4 1441.3,628.7 1443.7,629.0 1446.1,629.4 1448.5,629.7 1450.9,630.1 1453.3,630.5 1455.7,630.8 1458.1,631.2 1460.5,631.6 1462.9,631.9 1465.3,632.3 1467.7,632.6 1470.0,633.0 1472.4,633.3 1474.8,633.6 1477.2,633.9 1479.6,634.1 1482.0,634.4 1484.4,634.6 1486.9,634.8 1489.3,635.0 1491.7,635.1 1494.1,635.2 1496.6,635.3 1499.0,635.3 1501.4,635.3 1503.9,635.2 1506.3,635.1 1508.7,634.9 1511.1,634.6 1513.5,634.2 1515.9,633.8 1518.3,633.2 1520.6,632.5 1522.9,631.8 1525.2,631.0 1527.4,630.0 1529.6,629.0 1531.8,627.9 1533.9,626.7 1535.9,625.4 1537.8,624.0 1539.7,622.5 1541.5,621.0 1543.2,619.3 1544.9,617.6 1546.4,615.9 1547.9,614.0 1549.4,612.1 1550.8,610.1 1552.1,608.1 1553.3,606.0 1554.6,603.9 1555.7,601.8 1556.9,599.6 1558.0,597.3 1559.0,595.1 1560.0,592.8 1561.0,590.5 1562.0,588.2 1562.9,585.9 1563.8,583.6 1564.7,581.2 1565.6,578.9 1566.4,576.6 1567.3,574.3 1568.1,572.0 1568.9,569.7 1569.7,567.3 1570.5,565.0 1571.3,562.7 1572.0,560.4 1572.8,558.1 1573.5,555.8 1574.3,553.5 1575.0,551.2 1575.7,548.9 1576.3,546.6 1577.0,544.3 1577.7,542.0 1578.3,539.7 1578.9,537.4 1579.6,535.1 1580.2,532.8 1580.8,530.5 1581.4,528.2 1581.9,525.8 1582.5,523.5 1583.1,521.2 1583.6,518.9 1584.1,516.5 1584.6,514.2 1585.2,511.9 1585.7,509.5 1586.1,507.2 1586.6,504.8 1587.1,502.5 1587.6,500.1 1588.0,497.7 1588.5,495.4 1588.9,493.0 1589.3,490.6 1589.8,488.2 1590.2,485.9 1590.6,483.5 1591.0,481.1 1591.4,478.7 1591.8,476.3 1592.2,473.9 1592.6,471.5 1593.0,469.1 1593.4,466.7 1593.7,464.3 1594.1,461.9 1594.5,459.5 1594.9,457.1 1595.3,454.7 1595.6,452.3 1596.0,449.9 1596.4,447.5 1596.8,445.1 1597.1,442.7 1597.5,440.3 1597.9,437.9 1598.3,435.5 1598.7,433.1 1599.1,430.8 1599.5,428.4 1599.9,426.0 1600.3,423.6 1600.7,421.2 1601.1,418.8 1601.5,416.4 1601.9,414.0 1602.3,411.6 1602.7,409.2 1603.1,406.9 1603.5,404.5 1603.9,402.1 1604.3,399.7 1604.7,397.3 1605.2,394.9 1605.6,392.5 1606.0,390.2 1606.4,387.8 1606.8,385.4 1607.2,383.0 1607.7,380.6 1608.1,378.2 1608.5,375.9 1608.9,373.5 1609.3,371.1 1609.7,368.7 1610.2,366.3 1610.6,363.9 1611.0,361.6 1611.4,359.2 1611.8,356.8 1612.3,354.4 1612.7,352.0 1613.1,349.6 1613.5,347.2 1613.9,344.9 1614.3,342.5 1614.7,340.1 1615.2,337.7 1615.6,335.3 1616.0,332.9 1616.4,330.5 1616.8,328.2 1617.2,325.8 1617.6,323.4 1618.0,321.0 1618.4,318.6 1618.9,316.2 1619.3,313.8 1619.7,311.4 1620.1,309.0 1620.5,306.7 1620.9,304.3 1621.3,301.9 1621.7,299.5 1622.1,297.1 1622.5,294.7 1622.9,292.3 1623.3,289.9 1623.6,287.5 1624.0,285.1 1624.4,282.8 1624.8,280.4 1625.2,278.0 1625.6,275.6 1626.0,273.2 1626.3,270.8 1626.7,268.4 1627.1,266.0 1627.5,263.6 1627.8,261.2 1628.2,258.8 1628.6,256.4 1628.9,254.0 1629.3,251.6 1629.7,249.2 1630.0,246.9 1630.4,244.5 1630.7,242.1 1631.1,239.7 1631.4,237.3 1631.8,234.9 1632.1,232.5 1632.5,230.1 1632.8,227.7 1633.2,225.3 1633.5,222.9 1633.8,220.5 1634.2,218.1 1634.5,215.7 1634.8,213.3 1635.1,210.9 1635.5,208.5 1635.8,206.1 1636.1,203.7 1636.4,201.3 1636.8,198.9 1637.1,196.5 1637.4,194.1 1637.8,191.7 1638.1,189.3 1638.5,186.9 1638.8,184.5 1639.2,182.1 1639.6,179.8 1639.9,177.4 1640.3,175.0 1640.7,172.6 1641.1,170.2 1641.5,167.8 1641.9,165.4 1642.3,163.1 1642.8,160.7 1643.2,158.3 1643.7,155.9 1644.2,153.5 1644.7,151.2 1645.2,148.8 1645.7,146.4 1646.2,144.1 1646.7,141.7 1647.3,139.3 1647.9,137.0 1648.5,134.6 1649.1,132.3 1649.7,129.9 1650.4,127.6 1651.0,125.2 1651.7,122.9 1652.4,120.6 1653.2,118.2 1653.9,115.9 1654.7,113.6 1655.5,111.2 1656.4,109.0 1657.4,106.7 1658.5,104.6 1659.8,102.5 1661.4,100.5 1663.1,98.8 1665.0,97.4 1667.0,96.5 1668.9,96.4 1670.8,97.0 1672.5,98.3 1674.0,100.1 1675.4,102.1 1676.6,104.2 1677.7,106.4 1678.6,108.7 1679.5,111.0 1680.3,113.3 1681.1,115.6 1681.9,118.0 1682.6,120.3 1683.4,122.6 1684.1,125.0 1684.8,127.3 1685.5,129.7 1686.1,132.0 1686.8,134.4 1687.4,136.7 1688.1,139.1 1688.7,141.4 1689.3,143.8 1689.9,146.1 1690.5,148.5 1691.0,150.8 1691.6,153.2 1692.1,155.6 1692.7,157.9 1693.2,160.3 1693.7,162.7 1694.2,165.0 1694.7,167.4 1695.2,169.8 1695.7,172.1 1696.2,174.5 1696.7,176.9 1697.1,179.2 1697.6,181.6 1698.0,184.0 1698.5,186.4 1698.9,188.7 1699.3,191.1 1699.8,193.5 1700.2,195.9 1700.6,198.3 1701.0,200.6 1701.5,203.0 1701.9,205.4 1702.3,207.8 1702.7,210.2 1703.1,212.5 1703.5,214.9 1703.9,217.3 1704.3,219.7 1704.7,222.1 1705.1,224.5 1705.5,226.8 1705.9,229.2 1706.3,231.6 1706.7,234.0 1707.1,236.4 1707.5,238.8 1707.9,241.2 1708.3,243.6 1708.7,245.9 1709.1,248.3 1709.5,250.7 1709.9,253.1 1710.3,255.5 1710.6,257.9 1711.0,260.3 1711.4,262.7 1711.8,265.0 1712.2,267.4 1712.6,269.8 1713.0,272.2 1713.4,274.6 1713.8,277.0 1714.2,279.4 1714.6,281.8 1715.0,284.2 1715.4,286.5 1715.8,288.9 1716.2,291.3 1716.6,293.7 1717.0,296.1 1717.4,298.5 1717.8,300.9 1718.2,303.3 1718.6,305.7 1719.0,308.1 1719.4,310.4 1719.8,312.8 1720.2,315.2 1720.6,317.6 1721.0,320.0 1721.4,322.4 1721.8,324.8 1722.2,327.2 1722.6,329.6 1723.0,332.0 1723.5,334.3 1723.9,336.7 1724.3,339.1 1724.7,341.5 1725.1,343.9 1725.5,346.3 1725.9,348.7 1726.3,351.1 1726.8,353.5 1727.2,355.8 1727.6,358.2 1728.0,360.6 1728.4,363.0 1728.9,365.4 1729.3,367.8 1729.7,370.2 1730.1,372.6 1730.6,374.9 1731.0,377.3 1731.4,379.7 1731.8,382.1 1732.3,384.5 1732.7,386.9 1733.1,389.3 1733.6,391.6 1734.0,394.0 1734.5,396.4 1734.9,398.8 1735.3,401.2 1735.8,403.6 1736.2,405.9 1736.7,408.3 1737.1,410.7 1737.6,413.1 1738.0,415.5 1738.5,417.8 1739.0,420.2 1739.4,422.6 1739.9,425.0 1740.3,427.4 1740.8,429.7 1741.3,432.1 1741.7,434.5 1742.2,436.9 1742.7,439.2 1743.2,441.6 1743.6,444.0 1744.1,446.4 1744.6,448.7 1745.1,451.1 1745.6,453.5 1746.1,455.9 1746.6,458.2 1747.1,460.6 1747.6,463.0 1748.1,465.3 1748.6,467.7 1749.1,470.1 1749.6,472.4 1750.2,474.8 1750.7,477.1 1751.2,479.5 1751.8,481.9 1752.4,484.2 1752.9,486.6 1753.5,488.9 1754.1,491.2 1754.7,493.6 1755.3,495.9 1755.9,498.3 1756.5,500.6 1757.1,502.9 1757.7,505.3 1758.4,507.6 1759.0,509.9 1759.7,512.2 1760.4,514.6 1761.0,516.9 1761.7,519.2 1762.5,521.5 1763.2,523.8 1763.9,526.1 1764.6,528.4 1765.4,530.7 1766.2,533.0 1766.9,535.2 1767.7,537.5 1768.5,539.8 1769.4,542.1 1770.2,544.3 1771.1,546.6 1771.9,548.9 1772.8,551.1 1773.7,553.4 1774.6,555.6 1775.5,557.8 1776.5,560.1 1777.4,562.3 1778.4,564.5 1779.4,566.7 1780.4,569.0 1781.5,571.2 1782.5,573.4 1783.6,575.6 1784.6,577.8 1785.7,579.9 1786.9,582.1 1788.0,584.3 1789.2,586.5 1790.3,588.6 1791.5,590.8 1792.8,592.9 1794.0,595.0 1795.3,597.2 1796.5,599.3 1797.9,601.3 1799.2,603.4 1800.5,605.5 1801.9,607.5 1803.3,609.5 1804.7,611.5 1806.2,613.5 1807.7,615.4 1809.2,617.3 1810.7,619.2 1812.3,621.0 1813.9,622.9 1815.5,624.6 1817.1,626.4 1818.8,628.1 1820.5,629.8 1822.2,631.4 1824.0,633.0 1825.8,634.5 1827.6,636.1 1829.5,637.5 1831.4,638.9 1833.3,640.3 1835.3,641.6 1837.2,642.9 1839.3,644.1 1841.3,645.2 1843.4,646.3 1845.5,647.4 1847.7,648.4 1849.9,649.4 1852.1,650.3 1854.3,651.2 1856.6,652.0 1858.8,652.8 1861.1,653.5 1863.4,654.2 1865.8,654.9 1868.1,655.5 1870.5,656.2 1872.9,656.7 1875.3,657.3 1877.7,657.8 1880.1,658.3 1882.5,658.7 1885.0,659.1 1887.4,659.5 1889.9,659.9 1892.3,660.3 1894.8,660.6 1897.3,660.9 1899.7,661.2 1902.2,661.5 1904.6,661.8 1907.1,662.0 1909.6,662.2 1912.0,662.5 1914.4,662.7 1916.9,662.9 1919.3,663.1 1921.7,663.3 1924.1,663.5 1926.5,663.6 1928.9,663.8 1931.3,663.9 1933.7,664.1 1936.1,664.2 1938.5,664.3 1940.9,664.5 1943.3,664.6 1945.7,664.7 1948.1,664.8 1950.4,664.9 1952.8,665.0 1955.2,665.1 1957.6,665.1 1960.0,665.2 1962.3,665.3 1964.7,665.3 1967.1,665.4 1969.5,665.4 1971.9,665.5 1974.3,665.5 1976.7,665.6 1979.1,665.6 1981.5,665.6 1983.9,665.7 1986.3,665.7 1988.8,665.7 1991.2,665.8 1993.6,665.8 1996.1,665.8 1998.5,665.8 2001.0,665.8 2003.5,665.9 2005.9,665.9 2008.4,665.9 2010.9,665.9 2013.4,665.9 2015.9,665.9" fill="none" stroke="#ff00ff" stroke-width="2.4" stroke-linejoin="round" stroke-linecap="round" />
<text x="1621.8" y="91.9" font-size="24.5" text-anchor="start" fill="#ff80ff" >537</text>
<text x="1675.6" y="91.9" font-size="24.5" text-anchor="start" fill="#0000ff" >538</text>
<text x="1562.9" y="383.6" font-size="24.5" text-anchor="start" fill="#000" >526</text>
<text x="1532.1" y="417.3" font-size="24.5" text-anchor="start" fill="#ff0000" >524</text>
</svg>
</body></html>
